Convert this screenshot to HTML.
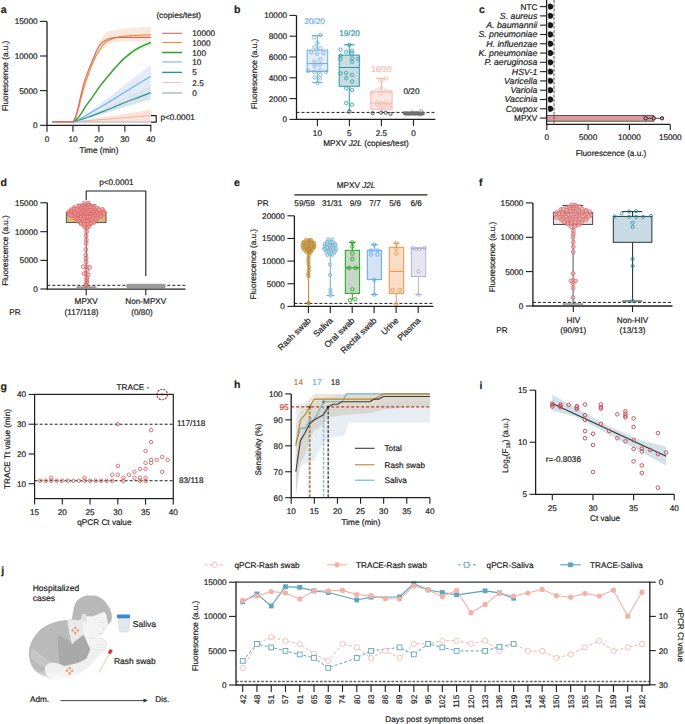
<!DOCTYPE html>
<html><head><meta charset="utf-8"><style>
html,body{margin:0;padding:0;background:#fff;}
svg{display:block;}
</style></head><body>
<svg width="685" height="724" viewBox="0 0 685 724" font-family="'Liberation Sans', sans-serif" font-size="8.2" fill="#1e1e1e" stroke-width="1">
<style>text{text-rendering:geometricPrecision;stroke:#1e1e1e;stroke-width:0.2px;}</style>
<rect width="685" height="724" fill="#fff"/>
<text x="0.8" y="12.5" font-weight="bold" font-size="10.5">a</text>
<polygon points="72.95,121.84 74.25,119.36 75.55,116.88 76.84,111.92 78.14,106.97 79.44,100.95 80.73,94.93 82.03,89.62 83.33,84.31 84.63,80.06 85.93,75.81 87.22,72.27 88.52,68.73 89.82,65.55 91.12,62.36 92.41,59.17 93.71,55.99 95.01,52.8 96.31,49.08 97.6,46.04 98.9,42.96 100.2,40.57 101.5,38.16 102.79,36.64 104.09,35.11 105.39,33.76 106.69,32.39 107.98,31.82 109.28,31.26 110.58,30.88 111.88,30.5 113.17,30.35 114.47,30.2 115.77,30.05 117.07,29.75 118.36,29.37 119.66,28.99 120.96,28.85 122.26,28.71 123.55,28.57 124.85,28.43 126.15,28.29 127.45,28.14 128.74,28 130.04,27.86 131.34,27.8 132.63,27.74 133.93,27.68 135.23,27.62 136.53,27.56 137.82,27.49 139.12,27.43 140.42,27.37 141.72,27.31 143.01,27.25 144.31,27.19 145.61,27.13 146.91,27.06 148.21,27 149.5,26.94 150.8,26.88 150.8,41.58 149.5,41.58 148.21,41.58 146.91,41.58 145.61,41.58 144.31,41.58 143.01,41.58 141.72,41.58 140.42,41.58 139.12,41.58 137.82,41.58 136.53,41.58 135.23,41.58 133.93,41.58 132.63,41.58 131.34,41.58 130.04,41.58 128.74,41.58 127.45,41.58 126.15,41.58 124.85,41.58 123.55,41.6 122.26,41.62 120.96,41.64 119.66,41.66 118.36,41.69 117.07,41.71 115.77,41.91 114.47,42.23 113.17,42.73 111.88,43.22 110.58,43.71 109.28,44.21 107.98,44.87 106.69,45.52 105.39,46.18 104.09,46.85 102.79,48.19 101.5,49.54 100.2,51.25 98.9,52.97 97.6,54.71 96.31,56.47 95.01,58.92 93.71,61.66 92.41,64.74 91.12,67.81 89.82,71.23 88.52,74.65 87.22,78.41 85.93,82.17 84.63,86.28 83.33,90.38 82.03,95.17 80.73,99.95 79.44,105.08 78.14,110.21 76.84,114.32 75.55,118.42 74.25,120.13 72.95,121.84" fill="#fbe8dc"/>
<polygon points="72.95,121.84 74.25,121.12 75.55,120.4 76.84,118.97 78.14,117.54 79.44,115.75 80.73,113.95 82.03,111.8 83.33,109.65 84.63,107.5 85.93,105.35 87.22,103.56 88.52,101.77 89.82,99.98 91.12,98.19 92.41,96.21 93.71,94.24 95.01,92.27 96.31,90.3 97.6,88.33 98.9,86.36 100.2,84.57 101.5,82.78 102.79,81.16 104.09,79.55 105.39,77.94 106.69,76.32 107.98,74.71 109.28,73.1 110.58,71.49 111.88,69.87 113.17,68.26 114.47,66.65 115.77,65.22 117.07,63.78 118.36,62.35 119.66,60.91 120.96,59.48 122.26,58.05 123.55,56.79 124.85,55.54 126.15,54.46 127.45,53.39 128.74,52.31 130.04,51.24 131.34,50.25 132.63,49.27 133.93,48.28 135.23,47.3 136.53,46.58 137.82,45.86 139.12,45.15 140.42,44.43 141.72,43.8 143.01,43.18 144.31,42.55 145.61,41.92 146.91,41.37 148.21,40.81 149.5,40.25 150.8,39.7 150.8,45.25 149.5,45.77 148.21,46.29 146.91,46.81 145.61,47.33 144.31,47.91 143.01,48.5 141.72,49.08 140.42,49.67 139.12,50.33 137.82,51 136.53,51.67 135.23,52.34 133.93,53.26 132.63,54.18 131.34,55.09 130.04,56.01 128.74,57.02 127.45,58.02 126.15,59.02 124.85,60.02 123.55,61.19 122.26,62.36 120.96,63.7 119.66,65.04 118.36,66.37 117.07,67.71 115.77,69.04 114.47,70.38 113.17,71.88 111.88,73.39 110.58,74.89 109.28,76.4 107.98,77.9 106.69,79.4 105.39,80.91 104.09,82.41 102.79,83.91 101.5,85.42 100.2,87.09 98.9,88.76 97.6,90.6 96.31,92.43 95.01,94.27 93.71,96.11 92.41,97.95 91.12,99.78 89.82,101.46 88.52,103.13 87.22,104.8 85.93,106.47 84.63,108.47 83.33,110.48 82.03,112.48 80.73,114.49 79.44,116.16 78.14,117.83 76.84,119.16 75.55,120.5 74.25,121.17 72.95,121.84" fill="#e4f0e0"/>
<polygon points="72.95,121.84 74.25,121.19 75.55,120.54 76.84,119.89 78.14,119.24 79.44,118.38 80.73,117.51 82.03,116.64 83.33,115.78 84.63,114.91 85.93,114.05 87.22,113.09 88.52,112.14 89.82,111.19 91.12,110.24 92.41,109.29 93.71,108.33 95.01,107.38 96.31,106.43 97.6,105.48 98.9,104.53 100.2,103.57 101.5,102.62 102.79,101.67 104.09,100.72 105.39,99.76 106.69,98.81 107.98,97.86 109.28,96.91 110.58,95.96 111.88,95 113.17,93.96 114.47,92.93 115.77,91.89 117.07,90.85 118.36,89.81 119.66,88.77 120.96,87.73 122.26,86.69 123.55,85.65 124.85,84.62 126.15,83.62 127.45,82.62 128.74,81.63 130.04,80.63 131.34,79.64 132.63,78.64 133.93,77.65 135.23,76.65 136.53,75.66 137.82,74.66 139.12,73.71 140.42,72.76 141.72,71.8 143.01,70.85 144.31,69.9 145.61,68.95 146.91,68 148.21,67.04 149.5,66.09 150.8,65.14 150.8,87.82 149.5,88.39 148.21,88.96 146.91,89.53 145.61,90.1 144.31,90.67 143.01,91.25 141.72,91.82 140.42,92.39 139.12,92.96 137.82,93.53 136.53,94.13 135.23,94.73 133.93,95.32 132.63,95.92 131.34,96.52 130.04,97.12 128.74,97.71 127.45,98.31 126.15,98.91 124.85,99.5 123.55,100.13 122.26,100.75 120.96,101.37 119.66,102 118.36,102.62 117.07,103.24 115.77,103.87 114.47,104.49 113.17,105.11 111.88,105.74 110.58,106.31 109.28,106.88 107.98,107.45 106.69,108.02 105.39,108.59 104.09,109.16 102.79,109.74 101.5,110.31 100.2,110.88 98.9,111.45 97.6,112.02 96.31,112.59 95.01,113.16 93.71,113.74 92.41,114.31 91.12,114.88 89.82,115.45 88.52,116.02 87.22,116.59 85.93,117.16 84.63,117.68 83.33,118.2 82.03,118.72 80.73,119.24 79.44,119.76 78.14,120.28 76.84,120.67 75.55,121.06 74.25,121.45 72.95,121.84" fill="#e3ebf7"/>
<polygon points="72.95,121.84 74.25,121.41 75.55,120.99 76.84,120.56 78.14,120.13 79.44,119.64 80.73,119.14 82.03,118.64 83.33,118.15 84.63,117.65 85.93,117.15 87.22,116.56 88.52,115.96 89.82,115.36 91.12,114.77 92.41,114.17 93.71,113.58 95.01,112.98 96.31,112.38 97.6,111.79 98.9,111.19 100.2,110.55 101.5,109.91 102.79,109.27 104.09,108.63 105.39,108 106.69,107.36 107.98,106.72 109.28,106.08 110.58,105.44 111.88,104.8 113.17,104.12 114.47,103.44 115.77,102.76 117.07,102.08 118.36,101.39 119.66,100.71 120.96,100.03 122.26,99.35 123.55,98.67 124.85,97.99 126.15,97.39 127.45,96.8 128.74,96.2 130.04,95.6 131.34,95.01 132.63,94.41 133.93,93.81 135.23,93.22 136.53,92.62 137.82,92.03 139.12,91.41 140.42,90.8 141.72,90.19 143.01,89.57 144.31,88.96 145.61,88.35 146.91,87.73 148.21,87.12 149.5,86.51 150.8,85.89 150.8,99.34 149.5,99.72 148.21,100.1 146.91,100.49 145.61,100.87 144.31,101.26 143.01,101.64 141.72,102.02 140.42,102.41 139.12,102.79 137.82,103.17 136.53,103.55 135.23,103.92 133.93,104.29 132.63,104.67 131.34,105.04 130.04,105.41 128.74,105.79 127.45,106.16 126.15,106.53 124.85,106.91 123.55,107.33 122.26,107.76 120.96,108.19 119.66,108.61 118.36,109.04 117.07,109.47 115.77,109.89 114.47,110.32 113.17,110.75 111.88,111.17 110.58,111.57 109.28,111.97 107.98,112.37 106.69,112.77 105.39,113.17 104.09,113.57 102.79,113.97 101.5,114.37 100.2,114.77 98.9,115.17 97.6,115.55 96.31,115.92 95.01,116.29 93.71,116.67 92.41,117.04 91.12,117.41 89.82,117.78 88.52,118.16 87.22,118.53 85.93,118.9 84.63,119.22 83.33,119.53 82.03,119.84 80.73,120.15 79.44,120.46 78.14,120.77 76.84,121.04 75.55,121.3 74.25,121.57 72.95,121.84" fill="#d9e3ea"/>
<polygon points="72.95,121.84 74.25,121.64 75.55,121.44 76.84,121.25 78.14,121.05 79.44,120.85 80.73,120.65 82.03,120.46 83.33,120.26 84.63,120.06 85.93,119.86 87.22,119.67 88.52,119.47 89.82,119.27 91.12,119.07 92.41,118.88 93.71,118.68 95.01,118.48 96.31,118.28 97.6,118.09 98.9,117.89 100.2,117.69 101.5,117.5 102.79,117.3 104.09,117.1 105.39,116.9 106.69,116.71 107.98,116.51 109.28,116.31 110.58,116.11 111.88,115.92 113.17,115.72 114.47,115.52 115.77,115.32 117.07,115.13 118.36,114.93 119.66,114.73 120.96,114.54 122.26,114.34 123.55,114.14 124.85,113.94 126.15,113.73 127.45,113.51 128.74,113.29 130.04,113.07 131.34,112.86 132.63,112.64 133.93,112.42 135.23,112.21 136.53,111.99 137.82,111.77 139.12,111.55 140.42,111.34 141.72,111.12 143.01,110.9 144.31,110.69 145.61,110.47 146.91,110.25 148.21,110.04 149.5,109.82 150.8,109.6 150.8,121.19 149.5,121.2 148.21,121.22 146.91,121.23 145.61,121.24 144.31,121.25 143.01,121.26 141.72,121.27 140.42,121.28 139.12,121.3 137.82,121.31 136.53,121.32 135.23,121.33 133.93,121.34 132.63,121.35 131.34,121.36 130.04,121.38 128.74,121.39 127.45,121.4 126.15,121.41 124.85,121.42 123.55,121.43 122.26,121.44 120.96,121.45 119.66,121.46 118.36,121.47 117.07,121.48 115.77,121.49 114.47,121.51 113.17,121.52 111.88,121.53 110.58,121.54 109.28,121.55 107.98,121.56 106.69,121.57 105.39,121.58 104.09,121.59 102.79,121.6 101.5,121.61 100.2,121.62 98.9,121.63 97.6,121.64 96.31,121.65 95.01,121.66 93.71,121.67 92.41,121.68 91.12,121.69 89.82,121.7 88.52,121.71 87.22,121.72 85.93,121.73 84.63,121.74 83.33,121.75 82.03,121.76 80.73,121.78 79.44,121.79 78.14,121.8 76.84,121.81 75.55,121.82 74.25,121.83 72.95,121.84" fill="#fce3da"/>
<line x1="52.19" y1="122" x2="150.8" y2="122" stroke="#c4c4c4" stroke-width="1.4"/>
<polyline points="72.95,121.84 74.25,121.73 75.55,121.63 76.84,121.53 78.14,121.42 79.44,121.32 80.73,121.21 82.03,121.11 83.33,121.01 84.63,120.9 85.93,120.8 87.22,120.69 88.52,120.59 89.82,120.49 91.12,120.38 92.41,120.28 93.71,120.18 95.01,120.07 96.31,119.97 97.6,119.86 98.9,119.76 100.2,119.66 101.5,119.55 102.79,119.45 104.09,119.34 105.39,119.24 106.69,119.14 107.98,119.03 109.28,118.93 110.58,118.83 111.88,118.72 113.17,118.62 114.47,118.51 115.77,118.41 117.07,118.31 118.36,118.2 119.66,118.1 120.96,117.99 122.26,117.89 123.55,117.79 124.85,117.68 126.15,117.57 127.45,117.45 128.74,117.34 130.04,117.23 131.34,117.11 132.63,117 133.93,116.88 135.23,116.77 136.53,116.65 137.82,116.54 139.12,116.43 140.42,116.31 141.72,116.2 143.01,116.08 144.31,115.97 145.61,115.85 146.91,115.74 148.21,115.63 149.5,115.51 150.8,115.4" fill="none" stroke="#f5b4a5" stroke-width="1.1" stroke-linejoin="round"/>
<polyline points="72.95,121.84 74.25,121.49 75.55,121.14 76.84,120.8 78.14,120.45 79.44,120.05 80.73,119.64 82.03,119.24 83.33,118.84 84.63,118.43 85.93,118.03 87.22,117.54 88.52,117.06 89.82,116.57 91.12,116.09 92.41,115.6 93.71,115.12 95.01,114.64 96.31,114.15 97.6,113.67 98.9,113.18 100.2,112.66 101.5,112.14 102.79,111.62 104.09,111.1 105.39,110.58 106.69,110.06 107.98,109.55 109.28,109.03 110.58,108.51 111.88,107.99 113.17,107.43 114.47,106.88 115.77,106.33 117.07,105.77 118.36,105.22 119.66,104.66 120.96,104.11 122.26,103.56 123.55,103 124.85,102.45 126.15,101.96 127.45,101.48 128.74,100.99 130.04,100.51 131.34,100.02 132.63,99.54 133.93,99.05 135.23,98.57 136.53,98.08 137.82,97.6 139.12,97.1 140.42,96.6 141.72,96.1 143.01,95.61 144.31,95.11 145.61,94.61 146.91,94.11 148.21,93.61 149.5,93.11 150.8,92.61" fill="none" stroke="#2a93aa" stroke-width="1.2" stroke-linejoin="round"/>
<polyline points="72.95,121.84 74.25,121.32 75.55,120.8 76.84,120.28 78.14,119.76 79.44,119.07 80.73,118.38 82.03,117.68 83.33,116.99 84.63,116.3 85.93,115.6 87.22,114.84 88.52,114.08 89.82,113.32 91.12,112.56 92.41,111.8 93.71,111.03 95.01,110.27 96.31,109.51 97.6,108.75 98.9,107.99 100.2,107.23 101.5,106.46 102.79,105.7 104.09,104.94 105.39,104.18 106.69,103.42 107.98,102.66 109.28,101.89 110.58,101.13 111.88,100.37 113.17,99.54 114.47,98.71 115.77,97.88 117.07,97.05 118.36,96.22 119.66,95.38 120.96,94.55 122.26,93.72 123.55,92.89 124.85,92.06 126.15,91.26 127.45,90.47 128.74,89.67 130.04,88.87 131.34,88.08 132.63,87.28 133.93,86.49 135.23,85.69 136.53,84.89 137.82,84.1 139.12,83.33 140.42,82.57 141.72,81.81 143.01,81.05 144.31,80.29 145.61,79.53 146.91,78.76 148.21,78 149.5,77.24 150.8,76.48" fill="none" stroke="#6fb2f5" stroke-width="1.2" stroke-linejoin="round"/>
<polyline points="72.95,121.84 74.25,121.14 75.55,120.45 76.84,119.07 78.14,117.68 79.44,115.95 80.73,114.22 82.03,112.14 83.33,110.06 84.63,107.99 85.93,105.91 87.22,104.18 88.52,102.45 89.82,100.72 91.12,98.98 92.41,97.08 93.71,95.18 95.01,93.27 96.31,91.37 97.6,89.46 98.9,87.56 100.2,85.83 101.5,84.1 102.79,82.54 104.09,80.98 105.39,79.42 106.69,77.86 107.98,76.31 109.28,74.75 110.58,73.19 111.88,71.63 113.17,70.07 114.47,68.52 115.77,67.13 117.07,65.75 118.36,64.36 119.66,62.98 120.96,61.59 122.26,60.2 123.55,58.99 124.85,57.78 126.15,56.74 127.45,55.7 128.74,54.67 130.04,53.63 131.34,52.67 132.63,51.72 133.93,50.77 135.23,49.82 136.53,49.12 137.82,48.43 139.12,47.74 140.42,47.05 141.72,46.44 143.01,45.84 144.31,45.23 145.61,44.62 146.91,44.09 148.21,43.55 149.5,43.01 150.8,42.48" fill="none" stroke="#2ea02e" stroke-width="1.4" stroke-linejoin="round"/>
<polyline points="52.19,121.84 53.49,121.84 54.78,121.84 56.08,121.84 57.38,121.84 58.68,121.84 59.98,121.84 61.27,121.84 62.57,121.84 63.87,121.84 65.17,121.84 66.46,121.84 67.76,121.84 69.06,121.84 70.36,121.84 71.65,121.84 72.95,121.84 74.25,120.11 75.55,118.38 76.84,114.22 78.14,110.06 79.44,104.87 80.73,99.68 82.03,94.83 83.33,89.98 84.63,85.83 85.93,81.67 87.22,77.86 88.52,74.06 89.82,70.59 91.12,67.13 92.41,64.01 93.71,60.9 95.01,58.13 96.31,55.36 97.6,53.28 98.9,51.2 100.2,49.12 101.5,47.05 102.79,45.32 104.09,43.58 105.39,42.55 106.69,41.51 107.98,40.81 109.28,40.12 110.58,39.6 111.88,39.08 113.17,38.56 114.47,38.05 115.77,37.7 117.07,37.35 118.36,37.01 119.66,36.66 120.96,36.53 122.26,36.4 123.55,36.27 124.85,36.14 126.15,36.01 127.45,35.88 128.74,35.75 130.04,35.62 131.34,35.56 132.63,35.51 133.93,35.45 135.23,35.4 136.53,35.34 137.82,35.28 139.12,35.23 140.42,35.17 141.72,35.11 143.01,35.06 144.31,35 145.61,34.95 146.91,34.89 148.21,34.83 149.5,34.78 150.8,34.72" fill="none" stroke="#f0913e" stroke-width="1.2" stroke-linejoin="round"/>
<polyline points="52.19,121.84 53.49,121.84 54.78,121.84 56.08,121.84 57.38,121.84 58.68,121.84 59.98,121.84 61.27,121.84 62.57,121.84 63.87,121.84 65.17,121.84 66.46,121.84 67.76,121.84 69.06,121.84 70.36,121.84 71.65,121.84 72.95,121.84 74.25,119.41 75.55,116.99 76.84,112.14 78.14,107.3 79.44,101.41 80.73,95.52 82.03,90.33 83.33,85.13 84.63,80.98 85.93,76.82 87.22,73.36 88.52,69.9 89.82,66.78 91.12,63.67 92.41,60.55 93.71,57.44 95.01,54.32 96.31,51.2 97.6,48.78 98.9,46.36 100.2,44.62 101.5,42.89 102.79,42.03 104.09,41.16 105.39,40.47 106.69,39.78 107.98,39.26 109.28,38.74 110.58,38.39 111.88,38.05 113.17,37.91 114.47,37.77 115.77,37.63 117.07,37.49 118.36,37.47 119.66,37.44 120.96,37.42 122.26,37.4 123.55,37.38 124.85,37.35 126.15,37.35 127.45,37.35 128.74,37.35 130.04,37.35 131.34,37.35 132.63,37.35 133.93,37.35 135.23,37.35 136.53,37.35 137.82,37.35 139.12,37.35 140.42,37.35 141.72,37.35 143.01,37.35 144.31,37.35 145.61,37.35 146.91,37.35 148.21,37.35 149.5,37.35 150.8,37.35" fill="none" stroke="#d4676a" stroke-width="1.1" stroke-linejoin="round"/>
<line x1="47" y1="21.4" x2="47" y2="125.8" stroke="#1e1e1e" stroke-width="1.3"/>
<line x1="46.4" y1="125.3" x2="151.4" y2="125.3" stroke="#1e1e1e" stroke-width="1.3"/>
<line x1="40" y1="125.3" x2="47" y2="125.3" stroke="#1e1e1e" stroke-width="1.1"/>
<text x="37.5" y="128.2" text-anchor="end">0</text>
<line x1="40" y1="90.6" x2="47" y2="90.6" stroke="#1e1e1e" stroke-width="1.1"/>
<text x="37.5" y="93.5" text-anchor="end">5000</text>
<line x1="40" y1="56" x2="47" y2="56" stroke="#1e1e1e" stroke-width="1.1"/>
<text x="37.5" y="58.9" text-anchor="end">10000</text>
<line x1="40" y1="21.4" x2="47" y2="21.4" stroke="#1e1e1e" stroke-width="1.1"/>
<text x="37.5" y="24.3" text-anchor="end">15000</text>
<line x1="47" y1="125.3" x2="47" y2="131.8" stroke="#1e1e1e" stroke-width="1.1"/>
<text x="47" y="142.1" text-anchor="middle">0</text>
<line x1="72.95" y1="125.3" x2="72.95" y2="131.8" stroke="#1e1e1e" stroke-width="1.1"/>
<text x="72.95" y="142.1" text-anchor="middle">10</text>
<line x1="98.9" y1="125.3" x2="98.9" y2="131.8" stroke="#1e1e1e" stroke-width="1.1"/>
<text x="98.9" y="142.1" text-anchor="middle">20</text>
<line x1="124.85" y1="125.3" x2="124.85" y2="131.8" stroke="#1e1e1e" stroke-width="1.1"/>
<text x="124.85" y="142.1" text-anchor="middle">30</text>
<line x1="150.8" y1="125.3" x2="150.8" y2="131.8" stroke="#1e1e1e" stroke-width="1.1"/>
<text x="150.8" y="142.1" text-anchor="middle">40</text>
<text x="99" y="153" text-anchor="middle">Time (min)</text>
<text x="8.3" y="76" text-anchor="middle" transform="rotate(-90 8.3 76)">Fluorescence (a.u.)</text>
<polyline points="151,115.6 156.2,115.6 156.2,122.1 151,122.1" fill="none" stroke="#1e1e1e" stroke-width="1.2" stroke-linejoin="round"/>
<text x="160.4" y="120.3">p&lt;0.0001</text>
<text x="156.4" y="18">(copies/test)</text>
<line x1="162.2" y1="33.3" x2="182" y2="33.3" stroke="#d4676a" stroke-width="1.1"/>
<text x="192.3" y="36.3">10000</text>
<line x1="162.2" y1="42.5" x2="182" y2="42.5" stroke="#f0913e" stroke-width="1.2"/>
<text x="192.3" y="45.5">1000</text>
<line x1="162.2" y1="52.5" x2="182" y2="52.5" stroke="#2ea02e" stroke-width="1.5"/>
<text x="192.3" y="55.5">100</text>
<line x1="162.2" y1="61.9" x2="182" y2="61.9" stroke="#a9d0fa" stroke-width="1.8"/>
<text x="192.3" y="64.9">10</text>
<line x1="162.2" y1="72.4" x2="182" y2="72.4" stroke="#2a93aa" stroke-width="1.4"/>
<text x="192.3" y="75.4">5</text>
<line x1="162.2" y1="82.5" x2="182" y2="82.5" stroke="#f7c3b6" stroke-width="1"/>
<text x="192.3" y="85.5">2.5</text>
<line x1="162.2" y1="92.9" x2="182" y2="92.9" stroke="#c8c8c8" stroke-width="2"/>
<text x="192.3" y="95.9">0</text>
<text x="234" y="12.5" font-weight="bold" font-size="10.5">b</text>
<line x1="296.5" y1="112.4" x2="435.4" y2="112.4" stroke="#1e1e1e" stroke-width="1" stroke-dasharray="3,2"/>
<line x1="317.4" y1="35.4" x2="317.4" y2="50.1" stroke="#6aa9ee" stroke-width="1"/>
<line x1="317.4" y1="71.4" x2="317.4" y2="82.4" stroke="#6aa9ee" stroke-width="1"/>
<line x1="311.7" y1="35.4" x2="322.9" y2="35.4" stroke="#6aa9ee" stroke-width="1"/>
<line x1="311.7" y1="82.4" x2="322.9" y2="82.4" stroke="#6aa9ee" stroke-width="1"/>
<rect x="307.1" y="50.1" width="20.6" height="21.3" fill="#e5edf9" stroke="#6aa9ee" stroke-width="1"/>
<line x1="307.1" y1="63.6" x2="327.7" y2="63.6" stroke="#6aa9ee" stroke-width="1"/>
<circle cx="320.4" cy="35" r="1.7" fill="none" stroke="#6aa9ee" stroke-width="0.8"/>
<circle cx="314.2" cy="37.5" r="1.7" fill="none" stroke="#6aa9ee" stroke-width="0.8"/>
<circle cx="317.5" cy="42.8" r="1.7" fill="none" stroke="#6aa9ee" stroke-width="0.8"/>
<circle cx="314.6" cy="47" r="1.7" fill="none" stroke="#6aa9ee" stroke-width="0.8"/>
<circle cx="320.4" cy="48.2" r="1.7" fill="none" stroke="#6aa9ee" stroke-width="0.8"/>
<circle cx="311.3" cy="52.4" r="1.7" fill="none" stroke="#6aa9ee" stroke-width="0.8"/>
<circle cx="317.1" cy="53.6" r="1.7" fill="none" stroke="#6aa9ee" stroke-width="0.8"/>
<circle cx="323.3" cy="53.2" r="1.7" fill="none" stroke="#6aa9ee" stroke-width="0.8"/>
<circle cx="320.4" cy="59.4" r="1.7" fill="none" stroke="#6aa9ee" stroke-width="0.8"/>
<circle cx="314.6" cy="61.5" r="1.7" fill="none" stroke="#6aa9ee" stroke-width="0.8"/>
<circle cx="320" cy="64.4" r="1.7" fill="none" stroke="#6aa9ee" stroke-width="0.8"/>
<circle cx="314.6" cy="66" r="1.7" fill="none" stroke="#6aa9ee" stroke-width="0.8"/>
<circle cx="308.4" cy="71" r="1.7" fill="none" stroke="#6aa9ee" stroke-width="0.8"/>
<circle cx="314.2" cy="71.8" r="1.7" fill="none" stroke="#6aa9ee" stroke-width="0.8"/>
<circle cx="320.4" cy="70.6" r="1.7" fill="none" stroke="#6aa9ee" stroke-width="0.8"/>
<circle cx="326.2" cy="71.8" r="1.7" fill="none" stroke="#6aa9ee" stroke-width="0.8"/>
<circle cx="320.4" cy="74.7" r="1.7" fill="none" stroke="#6aa9ee" stroke-width="0.8"/>
<circle cx="314.6" cy="77.6" r="1.7" fill="none" stroke="#6aa9ee" stroke-width="0.8"/>
<circle cx="320" cy="78.5" r="1.7" fill="none" stroke="#6aa9ee" stroke-width="0.8"/>
<circle cx="317.5" cy="83" r="1.7" fill="none" stroke="#6aa9ee" stroke-width="0.8"/>
<line x1="349.3" y1="44.8" x2="349.3" y2="55.1" stroke="#2a98aa" stroke-width="1"/>
<line x1="349.3" y1="86.3" x2="349.3" y2="111.6" stroke="#2a98aa" stroke-width="1"/>
<line x1="344" y1="44.8" x2="354.8" y2="44.8" stroke="#2a98aa" stroke-width="1"/>
<rect x="339.2" y="55.1" width="20.1" height="31.2" fill="#c9dce1" stroke="#2a98aa" stroke-width="1"/>
<line x1="339.2" y1="67.5" x2="359.3" y2="67.5" stroke="#2a98aa" stroke-width="1"/>
<circle cx="349.3" cy="44.8" r="1.7" fill="none" stroke="#2a98aa" stroke-width="0.8"/>
<circle cx="340.5" cy="49.6" r="1.7" fill="none" stroke="#2a98aa" stroke-width="0.8"/>
<circle cx="346.2" cy="51.8" r="1.7" fill="none" stroke="#2a98aa" stroke-width="0.8"/>
<circle cx="352.1" cy="50.7" r="1.7" fill="none" stroke="#2a98aa" stroke-width="0.8"/>
<circle cx="340.5" cy="55.6" r="1.7" fill="none" stroke="#2a98aa" stroke-width="0.8"/>
<circle cx="352.1" cy="53.5" r="1.7" fill="none" stroke="#2a98aa" stroke-width="0.8"/>
<circle cx="340.5" cy="59.2" r="1.7" fill="none" stroke="#2a98aa" stroke-width="0.8"/>
<circle cx="352.1" cy="58.4" r="1.7" fill="none" stroke="#2a98aa" stroke-width="0.8"/>
<circle cx="358.2" cy="58.9" r="1.7" fill="none" stroke="#2a98aa" stroke-width="0.8"/>
<circle cx="352.1" cy="61.7" r="1.7" fill="none" stroke="#2a98aa" stroke-width="0.8"/>
<circle cx="340.5" cy="73.3" r="1.7" fill="none" stroke="#2a98aa" stroke-width="0.8"/>
<circle cx="346.2" cy="73.1" r="1.7" fill="none" stroke="#2a98aa" stroke-width="0.8"/>
<circle cx="346.2" cy="78.2" r="1.7" fill="none" stroke="#2a98aa" stroke-width="0.8"/>
<circle cx="352.1" cy="74.9" r="1.7" fill="none" stroke="#2a98aa" stroke-width="0.8"/>
<circle cx="352.1" cy="81.5" r="1.7" fill="none" stroke="#2a98aa" stroke-width="0.8"/>
<circle cx="346.2" cy="88.2" r="1.7" fill="none" stroke="#2a98aa" stroke-width="0.8"/>
<circle cx="352.1" cy="90" r="1.7" fill="none" stroke="#2a98aa" stroke-width="0.8"/>
<circle cx="346.2" cy="103" r="1.7" fill="none" stroke="#2a98aa" stroke-width="0.8"/>
<circle cx="352.1" cy="104.7" r="1.7" fill="none" stroke="#2a98aa" stroke-width="0.8"/>
<line x1="381.4" y1="78.3" x2="381.4" y2="91.7" stroke="#f6b9ad" stroke-width="1"/>
<line x1="381.4" y1="109.2" x2="381.4" y2="114.5" stroke="#f6b9ad" stroke-width="1"/>
<line x1="375.8" y1="78.3" x2="386" y2="78.3" stroke="#f6b9ad" stroke-width="1"/>
<rect x="370.8" y="91.7" width="21.3" height="17.5" fill="#fce9e3" stroke="#f6b9ad" stroke-width="1"/>
<line x1="370.8" y1="103.1" x2="392.1" y2="103.1" stroke="#f6b9ad" stroke-width="1"/>
<circle cx="386" cy="78.3" r="1.7" fill="none" stroke="#f6b9ad" stroke-width="0.8"/>
<circle cx="380.4" cy="80.3" r="1.7" fill="none" stroke="#f6b9ad" stroke-width="0.8"/>
<circle cx="382.6" cy="80.3" r="1.7" fill="none" stroke="#f6b9ad" stroke-width="0.8"/>
<circle cx="381.3" cy="88.2" r="1.7" fill="none" stroke="#f6b9ad" stroke-width="0.8"/>
<circle cx="372.6" cy="92.6" r="1.7" fill="none" stroke="#f6b9ad" stroke-width="0.8"/>
<circle cx="377" cy="90.4" r="1.7" fill="none" stroke="#f6b9ad" stroke-width="0.8"/>
<circle cx="385.7" cy="90.8" r="1.7" fill="none" stroke="#f6b9ad" stroke-width="0.8"/>
<circle cx="390.1" cy="91.7" r="1.7" fill="none" stroke="#f6b9ad" stroke-width="0.8"/>
<circle cx="381.3" cy="93.5" r="1.7" fill="none" stroke="#f6b9ad" stroke-width="0.8"/>
<circle cx="377" cy="102.6" r="1.7" fill="none" stroke="#f6b9ad" stroke-width="0.8"/>
<circle cx="381.3" cy="103.1" r="1.7" fill="none" stroke="#f6b9ad" stroke-width="0.8"/>
<circle cx="385.7" cy="102.6" r="1.7" fill="none" stroke="#f6b9ad" stroke-width="0.8"/>
<circle cx="377" cy="104.8" r="1.7" fill="none" stroke="#f6b9ad" stroke-width="0.8"/>
<circle cx="385.7" cy="105.7" r="1.7" fill="none" stroke="#f6b9ad" stroke-width="0.8"/>
<circle cx="390.1" cy="105.7" r="1.7" fill="none" stroke="#f6b9ad" stroke-width="0.8"/>
<circle cx="381.3" cy="107.7" r="1.7" fill="none" stroke="#f6b9ad" stroke-width="0.8"/>
<circle cx="349.3" cy="111.6" r="1.6" fill="none" stroke="#444" stroke-width="0.9"/>
<circle cx="372.6" cy="113.2" r="1.6" fill="none" stroke="#444" stroke-width="0.9"/>
<circle cx="381.3" cy="112.7" r="1.6" fill="none" stroke="#444" stroke-width="0.9"/>
<circle cx="385.7" cy="112.7" r="1.6" fill="none" stroke="#444" stroke-width="0.9"/>
<circle cx="390.5" cy="114" r="1.6" fill="none" stroke="#444" stroke-width="0.9"/>
<rect x="403" y="111.8" width="21" height="3.6" fill="#8a8a8a" stroke="none" stroke-width="1" rx="1.8"/>
<circle cx="404.5" cy="112.98" r="1.5" fill="none" stroke="#666" stroke-width="0.7"/>
<circle cx="405.95" cy="113.47" r="1.5" fill="none" stroke="#666" stroke-width="0.7"/>
<circle cx="407.4" cy="113.19" r="1.5" fill="none" stroke="#666" stroke-width="0.7"/>
<circle cx="408.85" cy="113.57" r="1.5" fill="none" stroke="#666" stroke-width="0.7"/>
<circle cx="410.3" cy="113.6" r="1.5" fill="none" stroke="#666" stroke-width="0.7"/>
<circle cx="411.75" cy="112.7" r="1.5" fill="none" stroke="#666" stroke-width="0.7"/>
<circle cx="413.2" cy="112.62" r="1.5" fill="none" stroke="#666" stroke-width="0.7"/>
<circle cx="414.65" cy="113.94" r="1.5" fill="none" stroke="#666" stroke-width="0.7"/>
<circle cx="416.1" cy="113.01" r="1.5" fill="none" stroke="#666" stroke-width="0.7"/>
<circle cx="417.55" cy="112.97" r="1.5" fill="none" stroke="#666" stroke-width="0.7"/>
<circle cx="419" cy="114.19" r="1.5" fill="none" stroke="#666" stroke-width="0.7"/>
<circle cx="420.45" cy="113.35" r="1.5" fill="none" stroke="#666" stroke-width="0.7"/>
<circle cx="421.9" cy="113.94" r="1.5" fill="none" stroke="#666" stroke-width="0.7"/>
<circle cx="423.35" cy="113.36" r="1.5" fill="none" stroke="#666" stroke-width="0.7"/>
<circle cx="421.3" cy="111.2" r="1.5" fill="none" stroke="#777" stroke-width="0.7"/>
<line x1="296.5" y1="15.4" x2="296.5" y2="119.9" stroke="#1e1e1e" stroke-width="1.3"/>
<line x1="295.9" y1="119.4" x2="435.4" y2="119.4" stroke="#1e1e1e" stroke-width="1.3"/>
<line x1="289.5" y1="119.4" x2="296.5" y2="119.4" stroke="#1e1e1e" stroke-width="1.1"/>
<text x="287" y="122.3" text-anchor="end">0</text>
<line x1="289.5" y1="98.6" x2="296.5" y2="98.6" stroke="#1e1e1e" stroke-width="1.1"/>
<text x="287" y="101.5" text-anchor="end">2000</text>
<line x1="289.5" y1="77.8" x2="296.5" y2="77.8" stroke="#1e1e1e" stroke-width="1.1"/>
<text x="287" y="80.7" text-anchor="end">4000</text>
<line x1="289.5" y1="57" x2="296.5" y2="57" stroke="#1e1e1e" stroke-width="1.1"/>
<text x="287" y="59.9" text-anchor="end">6000</text>
<line x1="289.5" y1="36.2" x2="296.5" y2="36.2" stroke="#1e1e1e" stroke-width="1.1"/>
<text x="287" y="39.1" text-anchor="end">8000</text>
<line x1="289.5" y1="15.4" x2="296.5" y2="15.4" stroke="#1e1e1e" stroke-width="1.1"/>
<text x="287" y="18.3" text-anchor="end">10000</text>
<line x1="317.4" y1="119.4" x2="317.4" y2="125.9" stroke="#1e1e1e" stroke-width="1.1"/>
<text x="317.4" y="136.1" text-anchor="middle">10</text>
<line x1="349.4" y1="119.4" x2="349.4" y2="125.9" stroke="#1e1e1e" stroke-width="1.1"/>
<text x="349.4" y="136.1" text-anchor="middle">5</text>
<line x1="381.4" y1="119.4" x2="381.4" y2="125.9" stroke="#1e1e1e" stroke-width="1.1"/>
<text x="381.4" y="136.1" text-anchor="middle">2.5</text>
<line x1="413.5" y1="119.4" x2="413.5" y2="125.9" stroke="#1e1e1e" stroke-width="1.1"/>
<text x="413.5" y="136.1" text-anchor="middle">0</text>
<text x="366" y="145.6" text-anchor="middle">MPXV <tspan font-style="italic">J2L</tspan> (copies/test)</text>
<text x="257" y="74" text-anchor="middle" transform="rotate(-90 257 74)">Fluorescence (a.u.)</text>
<text x="314.5" y="23.8" text-anchor="middle" style="fill:#6aa9ee;stroke:#6aa9ee">20/20</text>
<text x="349.5" y="36.2" text-anchor="middle" style="fill:#2a98aa;stroke:#2a98aa">19/20</text>
<text x="381.4" y="71.5" text-anchor="middle" style="fill:#f6b9ad;stroke:#f6b9ad">16/20</text>
<text x="411.5" y="94.3" text-anchor="middle">0/20</text>
<text x="479" y="12.5" font-weight="bold" font-size="10.5">c</text>
<rect x="546.6" y="115.4" width="107.17" height="5.8" fill="#dc9b99" stroke="#3a3a3a" stroke-width="0.8"/>
<line x1="554.02" y1="0" x2="554.02" y2="124.4" stroke="#555" stroke-width="1" stroke-dasharray="3,1.3"/>
<line x1="540.1" y1="6.6" x2="546.6" y2="6.6" stroke="#1e1e1e" stroke-width="1.1"/>
<text x="537.3" y="9.5" text-anchor="end">NTC</text>
<circle cx="549.8" cy="5.4" r="1.75" fill="#1a1a1a" stroke="#111" stroke-width="0.4"/>
<circle cx="551.1" cy="5.9" r="1.75" fill="#1a1a1a" stroke="#111" stroke-width="0.4"/>
<circle cx="550" cy="7.8" r="1.75" fill="#1a1a1a" stroke="#111" stroke-width="0.4"/>
<circle cx="551.2" cy="7.2" r="1.75" fill="#1a1a1a" stroke="#111" stroke-width="0.4"/>
<circle cx="550.4" cy="6.6" r="1.75" fill="#1a1a1a" stroke="#111" stroke-width="0.4"/>
<line x1="540.1" y1="15.89" x2="546.6" y2="15.89" stroke="#1e1e1e" stroke-width="1.1"/>
<text x="537.3" y="18.79" text-anchor="end" font-style="italic" font-size="8.75">S. aureus</text>
<circle cx="549.8" cy="14.69" r="1.75" fill="#1a1a1a" stroke="#111" stroke-width="0.4"/>
<circle cx="551.1" cy="15.19" r="1.75" fill="#1a1a1a" stroke="#111" stroke-width="0.4"/>
<circle cx="550" cy="17.09" r="1.75" fill="#1a1a1a" stroke="#111" stroke-width="0.4"/>
<circle cx="551.2" cy="16.49" r="1.75" fill="#1a1a1a" stroke="#111" stroke-width="0.4"/>
<circle cx="550.4" cy="15.89" r="1.75" fill="#1a1a1a" stroke="#111" stroke-width="0.4"/>
<line x1="540.1" y1="25.18" x2="546.6" y2="25.18" stroke="#1e1e1e" stroke-width="1.1"/>
<text x="537.3" y="28.08" text-anchor="end" font-style="italic" font-size="8.75">A. baumannii</text>
<circle cx="549.8" cy="23.98" r="1.75" fill="#1a1a1a" stroke="#111" stroke-width="0.4"/>
<circle cx="551.1" cy="24.48" r="1.75" fill="#1a1a1a" stroke="#111" stroke-width="0.4"/>
<circle cx="550" cy="26.38" r="1.75" fill="#1a1a1a" stroke="#111" stroke-width="0.4"/>
<circle cx="551.2" cy="25.78" r="1.75" fill="#1a1a1a" stroke="#111" stroke-width="0.4"/>
<circle cx="550.4" cy="25.18" r="1.75" fill="#1a1a1a" stroke="#111" stroke-width="0.4"/>
<line x1="540.1" y1="34.47" x2="546.6" y2="34.47" stroke="#1e1e1e" stroke-width="1.1"/>
<text x="537.3" y="37.37" text-anchor="end" font-style="italic" font-size="8.75">S. pneumoniae</text>
<circle cx="549.8" cy="33.27" r="1.75" fill="#1a1a1a" stroke="#111" stroke-width="0.4"/>
<circle cx="551.1" cy="33.77" r="1.75" fill="#1a1a1a" stroke="#111" stroke-width="0.4"/>
<circle cx="550" cy="35.67" r="1.75" fill="#1a1a1a" stroke="#111" stroke-width="0.4"/>
<circle cx="551.2" cy="35.07" r="1.75" fill="#1a1a1a" stroke="#111" stroke-width="0.4"/>
<circle cx="550.4" cy="34.47" r="1.75" fill="#1a1a1a" stroke="#111" stroke-width="0.4"/>
<line x1="540.1" y1="43.76" x2="546.6" y2="43.76" stroke="#1e1e1e" stroke-width="1.1"/>
<text x="537.3" y="46.66" text-anchor="end" font-style="italic" font-size="8.75">H. influenzae</text>
<circle cx="549.8" cy="42.56" r="1.75" fill="#1a1a1a" stroke="#111" stroke-width="0.4"/>
<circle cx="551.1" cy="43.06" r="1.75" fill="#1a1a1a" stroke="#111" stroke-width="0.4"/>
<circle cx="550" cy="44.96" r="1.75" fill="#1a1a1a" stroke="#111" stroke-width="0.4"/>
<circle cx="551.2" cy="44.36" r="1.75" fill="#1a1a1a" stroke="#111" stroke-width="0.4"/>
<circle cx="550.4" cy="43.76" r="1.75" fill="#1a1a1a" stroke="#111" stroke-width="0.4"/>
<line x1="540.1" y1="53.05" x2="546.6" y2="53.05" stroke="#1e1e1e" stroke-width="1.1"/>
<text x="537.3" y="55.95" text-anchor="end" font-style="italic" font-size="8.75">K. pneumoniae</text>
<circle cx="549.8" cy="51.85" r="1.75" fill="#1a1a1a" stroke="#111" stroke-width="0.4"/>
<circle cx="551.1" cy="52.35" r="1.75" fill="#1a1a1a" stroke="#111" stroke-width="0.4"/>
<circle cx="550" cy="54.25" r="1.75" fill="#1a1a1a" stroke="#111" stroke-width="0.4"/>
<circle cx="551.2" cy="53.65" r="1.75" fill="#1a1a1a" stroke="#111" stroke-width="0.4"/>
<circle cx="550.4" cy="53.05" r="1.75" fill="#1a1a1a" stroke="#111" stroke-width="0.4"/>
<line x1="540.1" y1="62.34" x2="546.6" y2="62.34" stroke="#1e1e1e" stroke-width="1.1"/>
<text x="537.3" y="65.24" text-anchor="end" font-style="italic" font-size="8.75">P. aeruginosa</text>
<circle cx="549.8" cy="61.14" r="1.75" fill="#1a1a1a" stroke="#111" stroke-width="0.4"/>
<circle cx="551.1" cy="61.64" r="1.75" fill="#1a1a1a" stroke="#111" stroke-width="0.4"/>
<circle cx="550" cy="63.54" r="1.75" fill="#1a1a1a" stroke="#111" stroke-width="0.4"/>
<circle cx="551.2" cy="62.94" r="1.75" fill="#1a1a1a" stroke="#111" stroke-width="0.4"/>
<circle cx="550.4" cy="62.34" r="1.75" fill="#1a1a1a" stroke="#111" stroke-width="0.4"/>
<line x1="540.1" y1="71.63" x2="546.6" y2="71.63" stroke="#1e1e1e" stroke-width="1.1"/>
<text x="537.3" y="74.53" text-anchor="end" font-style="italic" font-size="8.75">HSV-1</text>
<circle cx="549.8" cy="70.43" r="1.75" fill="#1a1a1a" stroke="#111" stroke-width="0.4"/>
<circle cx="551.1" cy="70.93" r="1.75" fill="#1a1a1a" stroke="#111" stroke-width="0.4"/>
<circle cx="550" cy="72.83" r="1.75" fill="#1a1a1a" stroke="#111" stroke-width="0.4"/>
<circle cx="551.2" cy="72.23" r="1.75" fill="#1a1a1a" stroke="#111" stroke-width="0.4"/>
<circle cx="550.4" cy="71.63" r="1.75" fill="#1a1a1a" stroke="#111" stroke-width="0.4"/>
<line x1="540.1" y1="80.92" x2="546.6" y2="80.92" stroke="#1e1e1e" stroke-width="1.1"/>
<text x="537.3" y="83.82" text-anchor="end" font-style="italic" font-size="8.75">Varicella</text>
<circle cx="549.8" cy="79.72" r="1.75" fill="#1a1a1a" stroke="#111" stroke-width="0.4"/>
<circle cx="551.1" cy="80.22" r="1.75" fill="#1a1a1a" stroke="#111" stroke-width="0.4"/>
<circle cx="550" cy="82.12" r="1.75" fill="#1a1a1a" stroke="#111" stroke-width="0.4"/>
<circle cx="551.2" cy="81.52" r="1.75" fill="#1a1a1a" stroke="#111" stroke-width="0.4"/>
<circle cx="550.4" cy="80.92" r="1.75" fill="#1a1a1a" stroke="#111" stroke-width="0.4"/>
<line x1="540.1" y1="90.21" x2="546.6" y2="90.21" stroke="#1e1e1e" stroke-width="1.1"/>
<text x="537.3" y="93.11" text-anchor="end" font-style="italic" font-size="8.75">Variola</text>
<circle cx="549.8" cy="89.01" r="1.75" fill="#1a1a1a" stroke="#111" stroke-width="0.4"/>
<circle cx="551.1" cy="89.51" r="1.75" fill="#1a1a1a" stroke="#111" stroke-width="0.4"/>
<circle cx="550" cy="91.41" r="1.75" fill="#1a1a1a" stroke="#111" stroke-width="0.4"/>
<circle cx="551.2" cy="90.81" r="1.75" fill="#1a1a1a" stroke="#111" stroke-width="0.4"/>
<circle cx="550.4" cy="90.21" r="1.75" fill="#1a1a1a" stroke="#111" stroke-width="0.4"/>
<line x1="540.1" y1="99.5" x2="546.6" y2="99.5" stroke="#1e1e1e" stroke-width="1.1"/>
<text x="537.3" y="102.4" text-anchor="end" font-style="italic" font-size="8.75">Vaccinia</text>
<circle cx="549.8" cy="98.3" r="1.75" fill="#1a1a1a" stroke="#111" stroke-width="0.4"/>
<circle cx="551.1" cy="98.8" r="1.75" fill="#1a1a1a" stroke="#111" stroke-width="0.4"/>
<circle cx="550" cy="100.7" r="1.75" fill="#1a1a1a" stroke="#111" stroke-width="0.4"/>
<circle cx="551.2" cy="100.1" r="1.75" fill="#1a1a1a" stroke="#111" stroke-width="0.4"/>
<circle cx="550.4" cy="99.5" r="1.75" fill="#1a1a1a" stroke="#111" stroke-width="0.4"/>
<line x1="540.1" y1="108.79" x2="546.6" y2="108.79" stroke="#1e1e1e" stroke-width="1.1"/>
<text x="537.3" y="111.69" text-anchor="end" font-style="italic" font-size="8.75">Cowpox</text>
<circle cx="549.8" cy="107.59" r="1.75" fill="#1a1a1a" stroke="#111" stroke-width="0.4"/>
<circle cx="551.1" cy="108.09" r="1.75" fill="#1a1a1a" stroke="#111" stroke-width="0.4"/>
<circle cx="550" cy="109.99" r="1.75" fill="#1a1a1a" stroke="#111" stroke-width="0.4"/>
<circle cx="551.2" cy="109.39" r="1.75" fill="#1a1a1a" stroke="#111" stroke-width="0.4"/>
<circle cx="550.4" cy="108.79" r="1.75" fill="#1a1a1a" stroke="#111" stroke-width="0.4"/>
<line x1="540.1" y1="118.08" x2="546.6" y2="118.08" stroke="#1e1e1e" stroke-width="1.1"/>
<text x="537.3" y="120.98" text-anchor="end">MPXV</text>
<line x1="645.6" y1="118.3" x2="662" y2="118.3" stroke="#333" stroke-width="0.9"/>
<circle cx="645.6" cy="118.3" r="1.7" fill="#dc9b99" stroke="#222" stroke-width="1"/>
<circle cx="653.8" cy="118.3" r="1.7" fill="#dc9b99" stroke="#222" stroke-width="1"/>
<circle cx="662" cy="118.3" r="1.7" fill="#dc9b99" stroke="#222" stroke-width="1"/>
<line x1="546.6" y1="0" x2="546.6" y2="124.9" stroke="#1e1e1e" stroke-width="1.3"/>
<line x1="546" y1="124.4" x2="670.3" y2="124.4" stroke="#1e1e1e" stroke-width="1.3"/>
<line x1="546.8" y1="124.4" x2="546.8" y2="129.9" stroke="#1e1e1e" stroke-width="1.1"/>
<text x="546.8" y="140.3" text-anchor="middle">0</text>
<line x1="588.1" y1="124.4" x2="588.1" y2="129.9" stroke="#1e1e1e" stroke-width="1.1"/>
<text x="588.1" y="140.3" text-anchor="middle">5000</text>
<line x1="629.4" y1="124.4" x2="629.4" y2="129.9" stroke="#1e1e1e" stroke-width="1.1"/>
<text x="629.4" y="140.3" text-anchor="middle">10000</text>
<line x1="670.3" y1="124.4" x2="670.3" y2="129.9" stroke="#1e1e1e" stroke-width="1.1"/>
<text x="670.3" y="140.3" text-anchor="middle">15000</text>
<text x="611" y="156" text-anchor="middle">Fluorescence (a.u.)</text>
<text x="0.4" y="186" font-weight="bold" font-size="10.5">d</text>
<line x1="47.3" y1="285.3" x2="185.5" y2="285.3" stroke="#1e1e1e" stroke-width="1" stroke-dasharray="3,2"/>
<polyline points="86.2,200.2 86.2,191 145.8,191 145.8,276" fill="none" stroke="#1e1e1e" stroke-width="1.1" stroke-linejoin="round"/>
<text x="116.4" y="184.5" text-anchor="middle">p&lt;0.0001</text>
<line x1="86.3" y1="204.9" x2="86.3" y2="287.1" stroke="#555" stroke-width="1"/>
<line x1="76.4" y1="204.9" x2="96.4" y2="204.9" stroke="#555" stroke-width="1"/>
<line x1="76.4" y1="287.1" x2="96.4" y2="287.1" stroke="#555" stroke-width="1"/>
<rect x="66.3" y="212.2" width="39.7" height="10.4" fill="#dcb97a" stroke="#444" stroke-width="0.9"/>
<circle cx="84.09" cy="203.44" r="2" fill="#eb9c9c" stroke="#db6464" stroke-width="0.8" fill-opacity="0.75"/>
<circle cx="88.48" cy="203.32" r="2" fill="#eb9c9c" stroke="#db6464" stroke-width="0.8" fill-opacity="0.75"/>
<circle cx="79.94" cy="205.79" r="2" fill="#eb9c9c" stroke="#db6464" stroke-width="0.8" fill-opacity="0.75"/>
<circle cx="82.57" cy="206.01" r="2" fill="#eb9c9c" stroke="#db6464" stroke-width="0.8" fill-opacity="0.75"/>
<circle cx="85.74" cy="205.89" r="2" fill="#eb9c9c" stroke="#db6464" stroke-width="0.8" fill-opacity="0.75"/>
<circle cx="88.98" cy="205.35" r="2" fill="#eb9c9c" stroke="#db6464" stroke-width="0.8" fill-opacity="0.75"/>
<circle cx="92.61" cy="206.52" r="2" fill="#eb9c9c" stroke="#db6464" stroke-width="0.8" fill-opacity="0.75"/>
<circle cx="74.47" cy="207.56" r="2" fill="#eb9c9c" stroke="#db6464" stroke-width="0.8" fill-opacity="0.75"/>
<circle cx="78.33" cy="208.72" r="2" fill="#eb9c9c" stroke="#db6464" stroke-width="0.8" fill-opacity="0.75"/>
<circle cx="81.52" cy="207.83" r="2" fill="#eb9c9c" stroke="#db6464" stroke-width="0.8" fill-opacity="0.75"/>
<circle cx="85.25" cy="207.27" r="2" fill="#eb9c9c" stroke="#db6464" stroke-width="0.8" fill-opacity="0.75"/>
<circle cx="88.36" cy="207.66" r="2" fill="#eb9c9c" stroke="#db6464" stroke-width="0.8" fill-opacity="0.75"/>
<circle cx="90.75" cy="207.39" r="2" fill="#eb9c9c" stroke="#db6464" stroke-width="0.8" fill-opacity="0.75"/>
<circle cx="94.2" cy="208.51" r="2" fill="#eb9c9c" stroke="#db6464" stroke-width="0.8" fill-opacity="0.75"/>
<circle cx="97.29" cy="208.13" r="2" fill="#eb9c9c" stroke="#db6464" stroke-width="0.8" fill-opacity="0.75"/>
<circle cx="71.01" cy="209.8" r="2" fill="#eb9c9c" stroke="#db6464" stroke-width="0.8" fill-opacity="0.75"/>
<circle cx="73.99" cy="209.3" r="2" fill="#eb9c9c" stroke="#db6464" stroke-width="0.8" fill-opacity="0.75"/>
<circle cx="76.5" cy="209.53" r="2" fill="#eb9c9c" stroke="#db6464" stroke-width="0.8" fill-opacity="0.75"/>
<circle cx="80.33" cy="209.88" r="2" fill="#eb9c9c" stroke="#db6464" stroke-width="0.8" fill-opacity="0.75"/>
<circle cx="82.99" cy="210.14" r="2" fill="#eb9c9c" stroke="#db6464" stroke-width="0.8" fill-opacity="0.75"/>
<circle cx="86.24" cy="209.68" r="2" fill="#eb9c9c" stroke="#db6464" stroke-width="0.8" fill-opacity="0.75"/>
<circle cx="89.74" cy="210.32" r="2" fill="#eb9c9c" stroke="#db6464" stroke-width="0.8" fill-opacity="0.75"/>
<circle cx="92.17" cy="210.12" r="2" fill="#eb9c9c" stroke="#db6464" stroke-width="0.8" fill-opacity="0.75"/>
<circle cx="95.6" cy="210.6" r="2" fill="#eb9c9c" stroke="#db6464" stroke-width="0.8" fill-opacity="0.75"/>
<circle cx="98.94" cy="209.66" r="2" fill="#eb9c9c" stroke="#db6464" stroke-width="0.8" fill-opacity="0.75"/>
<circle cx="102.33" cy="209.39" r="2" fill="#eb9c9c" stroke="#db6464" stroke-width="0.8" fill-opacity="0.75"/>
<circle cx="68.79" cy="212.41" r="2" fill="#eb9c9c" stroke="#db6464" stroke-width="0.8" fill-opacity="0.75"/>
<circle cx="71.63" cy="211.98" r="2" fill="#eb9c9c" stroke="#db6464" stroke-width="0.8" fill-opacity="0.75"/>
<circle cx="74.66" cy="212.27" r="2" fill="#eb9c9c" stroke="#db6464" stroke-width="0.8" fill-opacity="0.75"/>
<circle cx="78.7" cy="212.12" r="2" fill="#eb9c9c" stroke="#db6464" stroke-width="0.8" fill-opacity="0.75"/>
<circle cx="82" cy="211.7" r="2" fill="#eb9c9c" stroke="#db6464" stroke-width="0.8" fill-opacity="0.75"/>
<circle cx="84.95" cy="212.15" r="2" fill="#eb9c9c" stroke="#db6464" stroke-width="0.8" fill-opacity="0.75"/>
<circle cx="87.98" cy="211.93" r="2" fill="#eb9c9c" stroke="#db6464" stroke-width="0.8" fill-opacity="0.75"/>
<circle cx="91.46" cy="212.71" r="2" fill="#eb9c9c" stroke="#db6464" stroke-width="0.8" fill-opacity="0.75"/>
<circle cx="94.19" cy="212.26" r="2" fill="#eb9c9c" stroke="#db6464" stroke-width="0.8" fill-opacity="0.75"/>
<circle cx="96.86" cy="212.32" r="2" fill="#eb9c9c" stroke="#db6464" stroke-width="0.8" fill-opacity="0.75"/>
<circle cx="100.73" cy="212.79" r="2" fill="#eb9c9c" stroke="#db6464" stroke-width="0.8" fill-opacity="0.75"/>
<circle cx="104.1" cy="211.66" r="2" fill="#eb9c9c" stroke="#db6464" stroke-width="0.8" fill-opacity="0.75"/>
<circle cx="69.2" cy="214.27" r="2" fill="#eb9c9c" stroke="#db6464" stroke-width="0.8" fill-opacity="0.75"/>
<circle cx="71.85" cy="213.94" r="2" fill="#eb9c9c" stroke="#db6464" stroke-width="0.8" fill-opacity="0.75"/>
<circle cx="75.11" cy="213.39" r="2" fill="#eb9c9c" stroke="#db6464" stroke-width="0.8" fill-opacity="0.75"/>
<circle cx="78.06" cy="214.43" r="2" fill="#eb9c9c" stroke="#db6464" stroke-width="0.8" fill-opacity="0.75"/>
<circle cx="81.23" cy="213.6" r="2" fill="#eb9c9c" stroke="#db6464" stroke-width="0.8" fill-opacity="0.75"/>
<circle cx="84.63" cy="214.59" r="2" fill="#eb9c9c" stroke="#db6464" stroke-width="0.8" fill-opacity="0.75"/>
<circle cx="87.34" cy="213.92" r="2" fill="#eb9c9c" stroke="#db6464" stroke-width="0.8" fill-opacity="0.75"/>
<circle cx="90.98" cy="214.61" r="2" fill="#eb9c9c" stroke="#db6464" stroke-width="0.8" fill-opacity="0.75"/>
<circle cx="94.39" cy="214.58" r="2" fill="#eb9c9c" stroke="#db6464" stroke-width="0.8" fill-opacity="0.75"/>
<circle cx="96.83" cy="213.86" r="2" fill="#eb9c9c" stroke="#db6464" stroke-width="0.8" fill-opacity="0.75"/>
<circle cx="100.01" cy="214.61" r="2" fill="#eb9c9c" stroke="#db6464" stroke-width="0.8" fill-opacity="0.75"/>
<circle cx="103.81" cy="213.44" r="2" fill="#eb9c9c" stroke="#db6464" stroke-width="0.8" fill-opacity="0.75"/>
<circle cx="71.51" cy="215.57" r="2" fill="#eb9c9c" stroke="#db6464" stroke-width="0.8" fill-opacity="0.75"/>
<circle cx="74.78" cy="215.98" r="2" fill="#eb9c9c" stroke="#db6464" stroke-width="0.8" fill-opacity="0.75"/>
<circle cx="78.41" cy="215.62" r="2" fill="#eb9c9c" stroke="#db6464" stroke-width="0.8" fill-opacity="0.75"/>
<circle cx="80.9" cy="215.87" r="2" fill="#eb9c9c" stroke="#db6464" stroke-width="0.8" fill-opacity="0.75"/>
<circle cx="84.54" cy="216.11" r="2" fill="#eb9c9c" stroke="#db6464" stroke-width="0.8" fill-opacity="0.75"/>
<circle cx="88.44" cy="216.3" r="2" fill="#eb9c9c" stroke="#db6464" stroke-width="0.8" fill-opacity="0.75"/>
<circle cx="91.12" cy="216.19" r="2" fill="#eb9c9c" stroke="#db6464" stroke-width="0.8" fill-opacity="0.75"/>
<circle cx="94.51" cy="215.29" r="2" fill="#eb9c9c" stroke="#db6464" stroke-width="0.8" fill-opacity="0.75"/>
<circle cx="97.98" cy="216.45" r="2" fill="#eb9c9c" stroke="#db6464" stroke-width="0.8" fill-opacity="0.75"/>
<circle cx="101.15" cy="216.48" r="2" fill="#eb9c9c" stroke="#db6464" stroke-width="0.8" fill-opacity="0.75"/>
<circle cx="74.8" cy="217.84" r="2" fill="#eb9c9c" stroke="#db6464" stroke-width="0.8" fill-opacity="0.75"/>
<circle cx="77.7" cy="218.21" r="2" fill="#eb9c9c" stroke="#db6464" stroke-width="0.8" fill-opacity="0.75"/>
<circle cx="80.9" cy="217.31" r="2" fill="#eb9c9c" stroke="#db6464" stroke-width="0.8" fill-opacity="0.75"/>
<circle cx="84.33" cy="217.46" r="2" fill="#eb9c9c" stroke="#db6464" stroke-width="0.8" fill-opacity="0.75"/>
<circle cx="87.73" cy="217.28" r="2" fill="#eb9c9c" stroke="#db6464" stroke-width="0.8" fill-opacity="0.75"/>
<circle cx="90.58" cy="217.44" r="2" fill="#eb9c9c" stroke="#db6464" stroke-width="0.8" fill-opacity="0.75"/>
<circle cx="93.95" cy="217.78" r="2" fill="#eb9c9c" stroke="#db6464" stroke-width="0.8" fill-opacity="0.75"/>
<circle cx="97.11" cy="218.6" r="2" fill="#eb9c9c" stroke="#db6464" stroke-width="0.8" fill-opacity="0.75"/>
<circle cx="77.01" cy="219.44" r="2" fill="#eb9c9c" stroke="#db6464" stroke-width="0.8" fill-opacity="0.75"/>
<circle cx="79.72" cy="219.76" r="2" fill="#eb9c9c" stroke="#db6464" stroke-width="0.8" fill-opacity="0.75"/>
<circle cx="82.99" cy="219.4" r="2" fill="#eb9c9c" stroke="#db6464" stroke-width="0.8" fill-opacity="0.75"/>
<circle cx="86.72" cy="220.79" r="2" fill="#eb9c9c" stroke="#db6464" stroke-width="0.8" fill-opacity="0.75"/>
<circle cx="89.4" cy="219.97" r="2" fill="#eb9c9c" stroke="#db6464" stroke-width="0.8" fill-opacity="0.75"/>
<circle cx="92.09" cy="219.36" r="2" fill="#eb9c9c" stroke="#db6464" stroke-width="0.8" fill-opacity="0.75"/>
<circle cx="95.54" cy="219.62" r="2" fill="#eb9c9c" stroke="#db6464" stroke-width="0.8" fill-opacity="0.75"/>
<circle cx="79.19" cy="221.46" r="2" fill="#eb9c9c" stroke="#db6464" stroke-width="0.8" fill-opacity="0.75"/>
<circle cx="81.23" cy="222.72" r="2" fill="#eb9c9c" stroke="#db6464" stroke-width="0.8" fill-opacity="0.75"/>
<circle cx="84.83" cy="221.43" r="2" fill="#eb9c9c" stroke="#db6464" stroke-width="0.8" fill-opacity="0.75"/>
<circle cx="87.85" cy="221.24" r="2" fill="#eb9c9c" stroke="#db6464" stroke-width="0.8" fill-opacity="0.75"/>
<circle cx="90.83" cy="222.77" r="2" fill="#eb9c9c" stroke="#db6464" stroke-width="0.8" fill-opacity="0.75"/>
<circle cx="94.24" cy="222.31" r="2" fill="#eb9c9c" stroke="#db6464" stroke-width="0.8" fill-opacity="0.75"/>
<circle cx="81.14" cy="223.79" r="2" fill="#eb9c9c" stroke="#db6464" stroke-width="0.8" fill-opacity="0.75"/>
<circle cx="84.28" cy="224.44" r="2" fill="#eb9c9c" stroke="#db6464" stroke-width="0.8" fill-opacity="0.75"/>
<circle cx="87.96" cy="224.45" r="2" fill="#eb9c9c" stroke="#db6464" stroke-width="0.8" fill-opacity="0.75"/>
<circle cx="90.97" cy="223.56" r="2" fill="#eb9c9c" stroke="#db6464" stroke-width="0.8" fill-opacity="0.75"/>
<circle cx="84.67" cy="226.78" r="2" fill="#eb9c9c" stroke="#db6464" stroke-width="0.8" fill-opacity="0.75"/>
<circle cx="88.72" cy="226.49" r="2" fill="#eb9c9c" stroke="#db6464" stroke-width="0.8" fill-opacity="0.75"/>
<circle cx="86.62" cy="228.1" r="2" fill="#eb9c9c" stroke="#db6464" stroke-width="0.8" fill-opacity="0.35"/>
<circle cx="86.54" cy="231.6" r="2" fill="#eb9c9c" stroke="#db6464" stroke-width="0.8" fill-opacity="0.35"/>
<circle cx="86.03" cy="235.7" r="2" fill="#eb9c9c" stroke="#db6464" stroke-width="0.8" fill-opacity="0.35"/>
<circle cx="86.32" cy="239.8" r="2" fill="#eb9c9c" stroke="#db6464" stroke-width="0.8" fill-opacity="0.35"/>
<circle cx="86.16" cy="243.3" r="2" fill="#eb9c9c" stroke="#db6464" stroke-width="0.8" fill-opacity="0.35"/>
<circle cx="85.83" cy="249.5" r="2" fill="#eb9c9c" stroke="#db6464" stroke-width="0.8" fill-opacity="0.35"/>
<circle cx="85.83" cy="255" r="2" fill="#eb9c9c" stroke="#db6464" stroke-width="0.8" fill-opacity="0.35"/>
<circle cx="86.08" cy="258.4" r="2" fill="#eb9c9c" stroke="#db6464" stroke-width="0.8" fill-opacity="0.35"/>
<circle cx="86.06" cy="261.9" r="2" fill="#eb9c9c" stroke="#db6464" stroke-width="0.8" fill-opacity="0.35"/>
<circle cx="86.49" cy="266.7" r="2" fill="#eb9c9c" stroke="#db6464" stroke-width="0.8" fill-opacity="0.35"/>
<circle cx="86.76" cy="270.2" r="2" fill="#eb9c9c" stroke="#db6464" stroke-width="0.8" fill-opacity="0.35"/>
<circle cx="86.25" cy="273.6" r="2" fill="#eb9c9c" stroke="#db6464" stroke-width="0.8" fill-opacity="0.35"/>
<circle cx="86.74" cy="277.8" r="2" fill="#eb9c9c" stroke="#db6464" stroke-width="0.8" fill-opacity="0.35"/>
<circle cx="86.79" cy="279.8" r="2" fill="#eb9c9c" stroke="#db6464" stroke-width="0.8" fill-opacity="0.35"/>
<circle cx="86.76" cy="281.9" r="2" fill="#eb9c9c" stroke="#db6464" stroke-width="0.8" fill-opacity="0.35"/>
<circle cx="86.16" cy="284" r="2" fill="#eb9c9c" stroke="#db6464" stroke-width="0.8" fill-opacity="0.35"/>
<circle cx="86.02" cy="285.8" r="2" fill="#eb9c9c" stroke="#db6464" stroke-width="0.8" fill-opacity="0.35"/>
<circle cx="83.3" cy="266.7" r="2" fill="#eb9c9c" stroke="#db6464" stroke-width="0.8" fill-opacity="0.35"/>
<circle cx="89.5" cy="267.4" r="2" fill="#eb9c9c" stroke="#db6464" stroke-width="0.8" fill-opacity="0.35"/>
<circle cx="84.2" cy="273.6" r="2" fill="#eb9c9c" stroke="#db6464" stroke-width="0.8" fill-opacity="0.35"/>
<circle cx="88.1" cy="274.7" r="2" fill="#eb9c9c" stroke="#db6464" stroke-width="0.8" fill-opacity="0.35"/>
<rect x="126.1" y="283.8" width="39.6" height="4.4" fill="#9a9a9a" stroke="none" stroke-width="1" rx="2"/>
<line x1="47.3" y1="202.8" x2="47.3" y2="289.7" stroke="#1e1e1e" stroke-width="1.3"/>
<line x1="46.7" y1="289.2" x2="185.5" y2="289.2" stroke="#1e1e1e" stroke-width="1.3"/>
<line x1="40.3" y1="289" x2="47.3" y2="289" stroke="#1e1e1e" stroke-width="1.1"/>
<text x="37.8" y="291.9" text-anchor="end">0</text>
<line x1="40.3" y1="260.4" x2="47.3" y2="260.4" stroke="#1e1e1e" stroke-width="1.1"/>
<text x="37.8" y="263.3" text-anchor="end">5000</text>
<line x1="40.3" y1="231.7" x2="47.3" y2="231.7" stroke="#1e1e1e" stroke-width="1.1"/>
<text x="37.8" y="234.6" text-anchor="end">10000</text>
<line x1="40.3" y1="202.8" x2="47.3" y2="202.8" stroke="#1e1e1e" stroke-width="1.1"/>
<text x="37.8" y="205.7" text-anchor="end">15000</text>
<line x1="86.2" y1="289.2" x2="86.2" y2="295.2" stroke="#1e1e1e" stroke-width="1.1"/>
<line x1="145.8" y1="289.2" x2="145.8" y2="295.2" stroke="#1e1e1e" stroke-width="1.1"/>
<text x="86.2" y="304" text-anchor="middle">MPXV</text>
<text x="81.5" y="315.3" text-anchor="middle">(117/118)</text>
<text x="145.8" y="304" text-anchor="middle">Non-MPXV</text>
<text x="142" y="315.3" text-anchor="middle">(0/80)</text>
<text x="9.2" y="315.3">PR</text>
<text x="8.3" y="250.5" text-anchor="middle" transform="rotate(-90 8.3 250.5)">Fluorescence (a.u.)</text>
<text x="234" y="185.5" font-weight="bold" font-size="10.5">e</text>
<text x="356" y="188.4" text-anchor="middle">MPXV <tspan font-style="italic">J2L</tspan></text>
<line x1="294.4" y1="194.8" x2="427.5" y2="194.8" stroke="#1e1e1e" stroke-width="1.2"/>
<text x="257.3" y="206">PR</text>
<text x="304.6" y="206" text-anchor="middle">59/59</text>
<text x="332.2" y="206" text-anchor="middle">31/31</text>
<text x="355.5" y="206" text-anchor="middle">9/9</text>
<text x="375" y="206" text-anchor="middle">7/7</text>
<text x="395" y="206" text-anchor="middle">5/6</text>
<text x="416.2" y="206" text-anchor="middle">6/6</text>
<line x1="294.4" y1="303.4" x2="433.4" y2="303.4" stroke="#1e1e1e" stroke-width="1" stroke-dasharray="3,2"/>
<line x1="308.6" y1="239" x2="308.6" y2="303.1" stroke="#b8862e" stroke-width="1"/>
<circle cx="305.88" cy="240.1" r="1.7" fill="#c79a4a" stroke="#b8862e" stroke-width="0.7" fill-opacity="0.6"/>
<circle cx="309.11" cy="239.95" r="1.7" fill="#c79a4a" stroke="#b8862e" stroke-width="0.7" fill-opacity="0.6"/>
<circle cx="311.28" cy="240.14" r="1.7" fill="#c79a4a" stroke="#b8862e" stroke-width="0.7" fill-opacity="0.6"/>
<circle cx="303.72" cy="242.02" r="1.7" fill="#c79a4a" stroke="#b8862e" stroke-width="0.7" fill-opacity="0.6"/>
<circle cx="307.26" cy="242.47" r="1.7" fill="#c79a4a" stroke="#b8862e" stroke-width="0.7" fill-opacity="0.6"/>
<circle cx="309.61" cy="241.69" r="1.7" fill="#c79a4a" stroke="#b8862e" stroke-width="0.7" fill-opacity="0.6"/>
<circle cx="312.61" cy="242.5" r="1.7" fill="#c79a4a" stroke="#b8862e" stroke-width="0.7" fill-opacity="0.6"/>
<circle cx="303.23" cy="243.27" r="1.7" fill="#c79a4a" stroke="#b8862e" stroke-width="0.7" fill-opacity="0.6"/>
<circle cx="306.38" cy="244.74" r="1.7" fill="#c79a4a" stroke="#b8862e" stroke-width="0.7" fill-opacity="0.6"/>
<circle cx="308.78" cy="244.18" r="1.7" fill="#c79a4a" stroke="#b8862e" stroke-width="0.7" fill-opacity="0.6"/>
<circle cx="310.99" cy="243.22" r="1.7" fill="#c79a4a" stroke="#b8862e" stroke-width="0.7" fill-opacity="0.6"/>
<circle cx="314.23" cy="243.3" r="1.7" fill="#c79a4a" stroke="#b8862e" stroke-width="0.7" fill-opacity="0.6"/>
<circle cx="302.63" cy="245.59" r="1.7" fill="#c79a4a" stroke="#b8862e" stroke-width="0.7" fill-opacity="0.6"/>
<circle cx="305.24" cy="245.94" r="1.7" fill="#c79a4a" stroke="#b8862e" stroke-width="0.7" fill-opacity="0.6"/>
<circle cx="308.53" cy="246.55" r="1.7" fill="#c79a4a" stroke="#b8862e" stroke-width="0.7" fill-opacity="0.6"/>
<circle cx="311.42" cy="246.22" r="1.7" fill="#c79a4a" stroke="#b8862e" stroke-width="0.7" fill-opacity="0.6"/>
<circle cx="314.2" cy="246.26" r="1.7" fill="#c79a4a" stroke="#b8862e" stroke-width="0.7" fill-opacity="0.6"/>
<circle cx="302.95" cy="247.65" r="1.7" fill="#c79a4a" stroke="#b8862e" stroke-width="0.7" fill-opacity="0.6"/>
<circle cx="306.4" cy="248.79" r="1.7" fill="#c79a4a" stroke="#b8862e" stroke-width="0.7" fill-opacity="0.6"/>
<circle cx="309.01" cy="248.33" r="1.7" fill="#c79a4a" stroke="#b8862e" stroke-width="0.7" fill-opacity="0.6"/>
<circle cx="311.18" cy="247.57" r="1.7" fill="#c79a4a" stroke="#b8862e" stroke-width="0.7" fill-opacity="0.6"/>
<circle cx="313.95" cy="247.31" r="1.7" fill="#c79a4a" stroke="#b8862e" stroke-width="0.7" fill-opacity="0.6"/>
<circle cx="304.42" cy="249.84" r="1.7" fill="#c79a4a" stroke="#b8862e" stroke-width="0.7" fill-opacity="0.6"/>
<circle cx="307.52" cy="249.82" r="1.7" fill="#c79a4a" stroke="#b8862e" stroke-width="0.7" fill-opacity="0.6"/>
<circle cx="310.65" cy="250.56" r="1.7" fill="#c79a4a" stroke="#b8862e" stroke-width="0.7" fill-opacity="0.6"/>
<circle cx="312.5" cy="249.54" r="1.7" fill="#c79a4a" stroke="#b8862e" stroke-width="0.7" fill-opacity="0.6"/>
<circle cx="306.43" cy="251.95" r="1.7" fill="#c79a4a" stroke="#b8862e" stroke-width="0.7" fill-opacity="0.6"/>
<circle cx="309.18" cy="251.84" r="1.7" fill="#c79a4a" stroke="#b8862e" stroke-width="0.7" fill-opacity="0.6"/>
<circle cx="310.75" cy="252.21" r="1.7" fill="#c79a4a" stroke="#b8862e" stroke-width="0.7" fill-opacity="0.6"/>
<circle cx="308.82" cy="255" r="1.7" fill="#c79a4a" stroke="#b8862e" stroke-width="0.7" fill-opacity="0.6"/>
<circle cx="308.42" cy="258" r="1.7" fill="#c79a4a" stroke="#b8862e" stroke-width="0.7" fill-opacity="0.6"/>
<circle cx="308.27" cy="261" r="1.7" fill="#c79a4a" stroke="#b8862e" stroke-width="0.7" fill-opacity="0.6"/>
<circle cx="308.47" cy="264" r="1.7" fill="#c79a4a" stroke="#b8862e" stroke-width="0.7" fill-opacity="0.6"/>
<circle cx="308.97" cy="267.3" r="1.7" fill="#c79a4a" stroke="#b8862e" stroke-width="0.7" fill-opacity="0.6"/>
<circle cx="308.81" cy="270.5" r="1.7" fill="#c79a4a" stroke="#b8862e" stroke-width="0.7" fill-opacity="0.6"/>
<circle cx="308.29" cy="273.5" r="1.7" fill="#c79a4a" stroke="#b8862e" stroke-width="0.7" fill-opacity="0.6"/>
<circle cx="308.4" cy="276" r="1.7" fill="#c79a4a" stroke="#b8862e" stroke-width="0.7" fill-opacity="0.6"/>
<circle cx="308.6" cy="303.1" r="1.7" fill="#b8862e" stroke="#b8862e" stroke-width="0.6"/>
<line x1="330.3" y1="240" x2="330.3" y2="295.5" stroke="#6aaec8" stroke-width="1"/>
<line x1="326.5" y1="295.5" x2="334.5" y2="295.5" stroke="#6aaec8" stroke-width="1"/>
<circle cx="328.32" cy="239.3" r="1.6" fill="#bcdbe8" stroke="#6aaec8" stroke-width="0.7" fill-opacity="0.7"/>
<circle cx="332.16" cy="239.48" r="1.6" fill="#bcdbe8" stroke="#6aaec8" stroke-width="0.7" fill-opacity="0.7"/>
<circle cx="327.04" cy="241.92" r="1.6" fill="#bcdbe8" stroke="#6aaec8" stroke-width="0.7" fill-opacity="0.7"/>
<circle cx="329.93" cy="242.37" r="1.6" fill="#bcdbe8" stroke="#6aaec8" stroke-width="0.7" fill-opacity="0.7"/>
<circle cx="333.19" cy="242.23" r="1.6" fill="#bcdbe8" stroke="#6aaec8" stroke-width="0.7" fill-opacity="0.7"/>
<circle cx="324.64" cy="243.87" r="1.6" fill="#bcdbe8" stroke="#6aaec8" stroke-width="0.7" fill-opacity="0.7"/>
<circle cx="327.36" cy="243.63" r="1.6" fill="#bcdbe8" stroke="#6aaec8" stroke-width="0.7" fill-opacity="0.7"/>
<circle cx="330.87" cy="244.49" r="1.6" fill="#bcdbe8" stroke="#6aaec8" stroke-width="0.7" fill-opacity="0.7"/>
<circle cx="332.66" cy="244.62" r="1.6" fill="#bcdbe8" stroke="#6aaec8" stroke-width="0.7" fill-opacity="0.7"/>
<circle cx="335.15" cy="243.83" r="1.6" fill="#bcdbe8" stroke="#6aaec8" stroke-width="0.7" fill-opacity="0.7"/>
<circle cx="325.13" cy="246.23" r="1.6" fill="#bcdbe8" stroke="#6aaec8" stroke-width="0.7" fill-opacity="0.7"/>
<circle cx="327.02" cy="246.78" r="1.6" fill="#bcdbe8" stroke="#6aaec8" stroke-width="0.7" fill-opacity="0.7"/>
<circle cx="329.96" cy="245.61" r="1.6" fill="#bcdbe8" stroke="#6aaec8" stroke-width="0.7" fill-opacity="0.7"/>
<circle cx="333.43" cy="245.73" r="1.6" fill="#bcdbe8" stroke="#6aaec8" stroke-width="0.7" fill-opacity="0.7"/>
<circle cx="335.66" cy="245.32" r="1.6" fill="#bcdbe8" stroke="#6aaec8" stroke-width="0.7" fill-opacity="0.7"/>
<circle cx="324.21" cy="248.13" r="1.6" fill="#bcdbe8" stroke="#6aaec8" stroke-width="0.7" fill-opacity="0.7"/>
<circle cx="327.19" cy="248.16" r="1.6" fill="#bcdbe8" stroke="#6aaec8" stroke-width="0.7" fill-opacity="0.7"/>
<circle cx="330.15" cy="247.93" r="1.6" fill="#bcdbe8" stroke="#6aaec8" stroke-width="0.7" fill-opacity="0.7"/>
<circle cx="333.65" cy="247.97" r="1.6" fill="#bcdbe8" stroke="#6aaec8" stroke-width="0.7" fill-opacity="0.7"/>
<circle cx="335.99" cy="248.59" r="1.6" fill="#bcdbe8" stroke="#6aaec8" stroke-width="0.7" fill-opacity="0.7"/>
<circle cx="324.32" cy="249.45" r="1.6" fill="#bcdbe8" stroke="#6aaec8" stroke-width="0.7" fill-opacity="0.7"/>
<circle cx="327.99" cy="250.51" r="1.6" fill="#bcdbe8" stroke="#6aaec8" stroke-width="0.7" fill-opacity="0.7"/>
<circle cx="330" cy="249.5" r="1.6" fill="#bcdbe8" stroke="#6aaec8" stroke-width="0.7" fill-opacity="0.7"/>
<circle cx="333.39" cy="250.7" r="1.6" fill="#bcdbe8" stroke="#6aaec8" stroke-width="0.7" fill-opacity="0.7"/>
<circle cx="335.54" cy="250.72" r="1.6" fill="#bcdbe8" stroke="#6aaec8" stroke-width="0.7" fill-opacity="0.7"/>
<circle cx="326.26" cy="252.17" r="1.6" fill="#bcdbe8" stroke="#6aaec8" stroke-width="0.7" fill-opacity="0.7"/>
<circle cx="328.71" cy="251.37" r="1.6" fill="#bcdbe8" stroke="#6aaec8" stroke-width="0.7" fill-opacity="0.7"/>
<circle cx="331.25" cy="252.74" r="1.6" fill="#bcdbe8" stroke="#6aaec8" stroke-width="0.7" fill-opacity="0.7"/>
<circle cx="334.49" cy="252.33" r="1.6" fill="#bcdbe8" stroke="#6aaec8" stroke-width="0.7" fill-opacity="0.7"/>
<circle cx="327.34" cy="255.02" r="1.6" fill="#bcdbe8" stroke="#6aaec8" stroke-width="0.7" fill-opacity="0.7"/>
<circle cx="330.42" cy="254.17" r="1.6" fill="#bcdbe8" stroke="#6aaec8" stroke-width="0.7" fill-opacity="0.7"/>
<circle cx="332.58" cy="254.85" r="1.6" fill="#bcdbe8" stroke="#6aaec8" stroke-width="0.7" fill-opacity="0.7"/>
<circle cx="329.96" cy="264.4" r="1.6" fill="#bcdbe8" stroke="#6aaec8" stroke-width="0.7" fill-opacity="0.7"/>
<circle cx="330.08" cy="275" r="1.6" fill="#bcdbe8" stroke="#6aaec8" stroke-width="0.7" fill-opacity="0.7"/>
<circle cx="330.35" cy="289.6" r="1.6" fill="#bcdbe8" stroke="#6aaec8" stroke-width="0.7" fill-opacity="0.7"/>
<circle cx="330.58" cy="292.6" r="1.6" fill="#bcdbe8" stroke="#6aaec8" stroke-width="0.7" fill-opacity="0.7"/>
<circle cx="330.39" cy="295.5" r="1.6" fill="#bcdbe8" stroke="#6aaec8" stroke-width="0.7" fill-opacity="0.7"/>
<line x1="352.3" y1="242.4" x2="352.3" y2="250.3" stroke="#22a022" stroke-width="1"/>
<line x1="352.3" y1="293.4" x2="352.3" y2="300.2" stroke="#22a022" stroke-width="1"/>
<line x1="348.8" y1="242.4" x2="355.8" y2="242.4" stroke="#22a022" stroke-width="1"/>
<rect x="345.3" y="250.3" width="14.3" height="43.1" fill="#c7d7c7" stroke="#22a022" stroke-width="1"/>
<line x1="345.3" y1="267.9" x2="359.6" y2="267.9" stroke="#22a022" stroke-width="1"/>
<circle cx="352.3" cy="242.4" r="1.75" fill="none" stroke="#22a022" stroke-width="0.85"/>
<circle cx="352.3" cy="246.5" r="1.75" fill="none" stroke="#22a022" stroke-width="0.85"/>
<circle cx="352.3" cy="253.5" r="1.75" fill="none" stroke="#22a022" stroke-width="0.85"/>
<circle cx="352.3" cy="259" r="1.75" fill="none" stroke="#22a022" stroke-width="0.85"/>
<circle cx="349" cy="267.9" r="1.75" fill="none" stroke="#22a022" stroke-width="0.85"/>
<circle cx="355.8" cy="267.9" r="1.75" fill="none" stroke="#22a022" stroke-width="0.85"/>
<circle cx="352.3" cy="289.3" r="1.75" fill="none" stroke="#22a022" stroke-width="0.85"/>
<circle cx="350" cy="300.2" r="1.75" fill="none" stroke="#22a022" stroke-width="0.85"/>
<circle cx="355.3" cy="299.2" r="1.75" fill="none" stroke="#22a022" stroke-width="0.85"/>
<line x1="374.3" y1="244.7" x2="374.3" y2="250.3" stroke="#5ea8f2" stroke-width="1"/>
<line x1="374.3" y1="279.6" x2="374.3" y2="294.6" stroke="#5ea8f2" stroke-width="1"/>
<line x1="370.8" y1="244.7" x2="377.8" y2="244.7" stroke="#5ea8f2" stroke-width="1"/>
<line x1="370.8" y1="294.6" x2="377.8" y2="294.6" stroke="#5ea8f2" stroke-width="1"/>
<rect x="367.3" y="250.3" width="14.1" height="29.3" fill="#d6e3f5" stroke="#5ea8f2" stroke-width="1"/>
<circle cx="374.3" cy="244.7" r="1.75" fill="none" stroke="#5ea8f2" stroke-width="0.85"/>
<circle cx="371" cy="250.5" r="1.75" fill="none" stroke="#5ea8f2" stroke-width="0.85"/>
<circle cx="377.5" cy="250.5" r="1.75" fill="none" stroke="#5ea8f2" stroke-width="0.85"/>
<circle cx="371" cy="254.5" r="1.75" fill="none" stroke="#5ea8f2" stroke-width="0.85"/>
<circle cx="377.5" cy="254.5" r="1.75" fill="none" stroke="#5ea8f2" stroke-width="0.85"/>
<circle cx="374.3" cy="279.8" r="1.75" fill="none" stroke="#5ea8f2" stroke-width="0.85"/>
<circle cx="374.3" cy="294.6" r="1.75" fill="none" stroke="#5ea8f2" stroke-width="0.85"/>
<line x1="396.3" y1="243.2" x2="396.3" y2="247.3" stroke="#f0924a" stroke-width="1"/>
<line x1="396.3" y1="293.4" x2="396.3" y2="304.9" stroke="#f0924a" stroke-width="1"/>
<line x1="392.8" y1="243.2" x2="399.8" y2="243.2" stroke="#f0924a" stroke-width="1"/>
<rect x="389.3" y="247.3" width="14.4" height="46.1" fill="#f9ddc6" stroke="#f0924a" stroke-width="1"/>
<line x1="389.3" y1="271.4" x2="403.7" y2="271.4" stroke="#f0924a" stroke-width="1"/>
<circle cx="396.3" cy="243.2" r="1.75" fill="none" stroke="#f0924a" stroke-width="0.85"/>
<circle cx="396.3" cy="248.5" r="1.75" fill="none" stroke="#f0924a" stroke-width="0.85"/>
<circle cx="396.3" cy="253.5" r="1.75" fill="none" stroke="#f0924a" stroke-width="0.85"/>
<circle cx="392.8" cy="289.9" r="1.75" fill="none" stroke="#f0924a" stroke-width="0.85"/>
<circle cx="399.8" cy="289.9" r="1.75" fill="none" stroke="#f0924a" stroke-width="0.85"/>
<circle cx="396.3" cy="304.5" r="1.75" fill="none" stroke="#f0924a" stroke-width="0.85"/>
<line x1="418.4" y1="248.5" x2="418.4" y2="247.9" stroke="#b4b4d2" stroke-width="1"/>
<line x1="418.4" y1="276.5" x2="418.4" y2="294.6" stroke="#b4b4d2" stroke-width="1"/>
<line x1="414.9" y1="294.6" x2="421.9" y2="294.6" stroke="#b4b4d2" stroke-width="1"/>
<rect x="411.4" y="247.9" width="14.3" height="28.6" fill="#e6e6ef" stroke="#b4b4d2" stroke-width="1"/>
<line x1="411.4" y1="248.5" x2="425.7" y2="248.5" stroke="#b4b4d2" stroke-width="1"/>
<circle cx="412.5" cy="248" r="1.75" fill="none" stroke="#b4b4d2" stroke-width="0.85"/>
<circle cx="416" cy="249" r="1.75" fill="none" stroke="#b4b4d2" stroke-width="0.85"/>
<circle cx="419.5" cy="249" r="1.75" fill="none" stroke="#b4b4d2" stroke-width="0.85"/>
<circle cx="424.5" cy="247.8" r="1.75" fill="none" stroke="#b4b4d2" stroke-width="0.85"/>
<circle cx="418.4" cy="271.3" r="1.75" fill="none" stroke="#b4b4d2" stroke-width="0.85"/>
<circle cx="418.4" cy="294.6" r="1.75" fill="none" stroke="#b4b4d2" stroke-width="0.85"/>
<line x1="294.4" y1="215.8" x2="294.4" y2="306.9" stroke="#1e1e1e" stroke-width="1.3"/>
<line x1="293.8" y1="306.4" x2="433.4" y2="306.4" stroke="#1e1e1e" stroke-width="1.3"/>
<line x1="287.4" y1="306.4" x2="294.4" y2="306.4" stroke="#1e1e1e" stroke-width="1.1"/>
<text x="284.9" y="309.3" text-anchor="end">0</text>
<line x1="287.4" y1="283.75" x2="294.4" y2="283.75" stroke="#1e1e1e" stroke-width="1.1"/>
<text x="284.9" y="286.65" text-anchor="end">5000</text>
<line x1="287.4" y1="261.1" x2="294.4" y2="261.1" stroke="#1e1e1e" stroke-width="1.1"/>
<text x="284.9" y="264" text-anchor="end">10000</text>
<line x1="287.4" y1="238.45" x2="294.4" y2="238.45" stroke="#1e1e1e" stroke-width="1.1"/>
<text x="284.9" y="241.35" text-anchor="end">15000</text>
<line x1="287.4" y1="215.8" x2="294.4" y2="215.8" stroke="#1e1e1e" stroke-width="1.1"/>
<text x="284.9" y="218.7" text-anchor="end">20000</text>
<line x1="308.4" y1="306.4" x2="308.4" y2="312.9" stroke="#1e1e1e" stroke-width="1.1"/>
<text x="311.4" y="321" text-anchor="end" font-size="8.6" transform="rotate(-45 311.4 321)">Rash swab</text>
<line x1="330.3" y1="306.4" x2="330.3" y2="312.9" stroke="#1e1e1e" stroke-width="1.1"/>
<text x="333.3" y="321" text-anchor="end" font-size="8.6" transform="rotate(-45 333.3 321)">Saliva</text>
<line x1="352.2" y1="306.4" x2="352.2" y2="312.9" stroke="#1e1e1e" stroke-width="1.1"/>
<text x="355.2" y="321" text-anchor="end" font-size="8.6" transform="rotate(-45 355.2 321)">Oral swab</text>
<line x1="374.1" y1="306.4" x2="374.1" y2="312.9" stroke="#1e1e1e" stroke-width="1.1"/>
<text x="377.1" y="321" text-anchor="end" font-size="8.6" transform="rotate(-45 377.1 321)">Rectal swab</text>
<line x1="396.1" y1="306.4" x2="396.1" y2="312.9" stroke="#1e1e1e" stroke-width="1.1"/>
<text x="399.1" y="321" text-anchor="end" font-size="8.6" transform="rotate(-45 399.1 321)">Urine</text>
<line x1="418.2" y1="306.4" x2="418.2" y2="312.9" stroke="#1e1e1e" stroke-width="1.1"/>
<text x="421.2" y="321" text-anchor="end" font-size="8.6" transform="rotate(-45 421.2 321)">Plasma</text>
<text x="256" y="264.2" text-anchor="middle" transform="rotate(-90 256 264.2)">Fluorescence (a.u.)</text>
<text x="479" y="185.8" font-weight="bold" font-size="10.5">f</text>
<line x1="532.9" y1="302.4" x2="672.5" y2="302.4" stroke="#1e1e1e" stroke-width="1" stroke-dasharray="3,2"/>
<line x1="573.1" y1="205.5" x2="573.1" y2="304" stroke="#555" stroke-width="1"/>
<line x1="562.5" y1="205.5" x2="583.2" y2="205.5" stroke="#333" stroke-width="1"/>
<line x1="562.5" y1="304" x2="583.2" y2="304" stroke="#555" stroke-width="1"/>
<rect x="553.4" y="212.7" width="39.3" height="11.7" fill="#f6dfdf" stroke="#333" stroke-width="0.9"/>
<circle cx="571.75" cy="204.89" r="1.9" fill="#f0b0b0" stroke="#d66a6a" stroke-width="0.8" fill-opacity="0.7"/>
<circle cx="574.95" cy="205.21" r="1.9" fill="#f0b0b0" stroke="#d66a6a" stroke-width="0.8" fill-opacity="0.7"/>
<circle cx="566.99" cy="207.68" r="1.9" fill="#f0b0b0" stroke="#d66a6a" stroke-width="0.8" fill-opacity="0.7"/>
<circle cx="569.33" cy="206.94" r="1.9" fill="#f0b0b0" stroke="#d66a6a" stroke-width="0.8" fill-opacity="0.7"/>
<circle cx="573.63" cy="207.24" r="1.9" fill="#f0b0b0" stroke="#d66a6a" stroke-width="0.8" fill-opacity="0.7"/>
<circle cx="576.78" cy="206.38" r="1.9" fill="#f0b0b0" stroke="#d66a6a" stroke-width="0.8" fill-opacity="0.7"/>
<circle cx="579.46" cy="206.59" r="1.9" fill="#f0b0b0" stroke="#d66a6a" stroke-width="0.8" fill-opacity="0.7"/>
<circle cx="560.71" cy="209.62" r="1.9" fill="#f0b0b0" stroke="#d66a6a" stroke-width="0.8" fill-opacity="0.7"/>
<circle cx="563.18" cy="209.05" r="1.9" fill="#f0b0b0" stroke="#d66a6a" stroke-width="0.8" fill-opacity="0.7"/>
<circle cx="566.61" cy="210.17" r="1.9" fill="#f0b0b0" stroke="#d66a6a" stroke-width="0.8" fill-opacity="0.7"/>
<circle cx="570.31" cy="208.96" r="1.9" fill="#f0b0b0" stroke="#d66a6a" stroke-width="0.8" fill-opacity="0.7"/>
<circle cx="573.46" cy="208.92" r="1.9" fill="#f0b0b0" stroke="#d66a6a" stroke-width="0.8" fill-opacity="0.7"/>
<circle cx="576.35" cy="208.9" r="1.9" fill="#f0b0b0" stroke="#d66a6a" stroke-width="0.8" fill-opacity="0.7"/>
<circle cx="578.72" cy="210.09" r="1.9" fill="#f0b0b0" stroke="#d66a6a" stroke-width="0.8" fill-opacity="0.7"/>
<circle cx="582.08" cy="209.04" r="1.9" fill="#f0b0b0" stroke="#d66a6a" stroke-width="0.8" fill-opacity="0.7"/>
<circle cx="586.12" cy="210.1" r="1.9" fill="#f0b0b0" stroke="#d66a6a" stroke-width="0.8" fill-opacity="0.7"/>
<circle cx="556.48" cy="212.74" r="1.9" fill="#f0b0b0" stroke="#d66a6a" stroke-width="0.8" fill-opacity="0.7"/>
<circle cx="560.06" cy="212.28" r="1.9" fill="#f0b0b0" stroke="#d66a6a" stroke-width="0.8" fill-opacity="0.7"/>
<circle cx="562.93" cy="212.71" r="1.9" fill="#f0b0b0" stroke="#d66a6a" stroke-width="0.8" fill-opacity="0.7"/>
<circle cx="566.78" cy="212.75" r="1.9" fill="#f0b0b0" stroke="#d66a6a" stroke-width="0.8" fill-opacity="0.7"/>
<circle cx="570.3" cy="211.68" r="1.9" fill="#f0b0b0" stroke="#d66a6a" stroke-width="0.8" fill-opacity="0.7"/>
<circle cx="572.93" cy="211.47" r="1.9" fill="#f0b0b0" stroke="#d66a6a" stroke-width="0.8" fill-opacity="0.7"/>
<circle cx="575.95" cy="211.3" r="1.9" fill="#f0b0b0" stroke="#d66a6a" stroke-width="0.8" fill-opacity="0.7"/>
<circle cx="579.41" cy="212.16" r="1.9" fill="#f0b0b0" stroke="#d66a6a" stroke-width="0.8" fill-opacity="0.7"/>
<circle cx="582.32" cy="212.28" r="1.9" fill="#f0b0b0" stroke="#d66a6a" stroke-width="0.8" fill-opacity="0.7"/>
<circle cx="586" cy="211.7" r="1.9" fill="#f0b0b0" stroke="#d66a6a" stroke-width="0.8" fill-opacity="0.7"/>
<circle cx="589.85" cy="211.97" r="1.9" fill="#f0b0b0" stroke="#d66a6a" stroke-width="0.8" fill-opacity="0.7"/>
<circle cx="555.46" cy="214.47" r="1.9" fill="#f0b0b0" stroke="#d66a6a" stroke-width="0.8" fill-opacity="0.7"/>
<circle cx="559.1" cy="213.79" r="1.9" fill="#f0b0b0" stroke="#d66a6a" stroke-width="0.8" fill-opacity="0.7"/>
<circle cx="562.59" cy="213.74" r="1.9" fill="#f0b0b0" stroke="#d66a6a" stroke-width="0.8" fill-opacity="0.7"/>
<circle cx="565.48" cy="215.05" r="1.9" fill="#f0b0b0" stroke="#d66a6a" stroke-width="0.8" fill-opacity="0.7"/>
<circle cx="567.77" cy="214.96" r="1.9" fill="#f0b0b0" stroke="#d66a6a" stroke-width="0.8" fill-opacity="0.7"/>
<circle cx="571.36" cy="214.63" r="1.9" fill="#f0b0b0" stroke="#d66a6a" stroke-width="0.8" fill-opacity="0.7"/>
<circle cx="574.09" cy="213.77" r="1.9" fill="#f0b0b0" stroke="#d66a6a" stroke-width="0.8" fill-opacity="0.7"/>
<circle cx="577.47" cy="215.23" r="1.9" fill="#f0b0b0" stroke="#d66a6a" stroke-width="0.8" fill-opacity="0.7"/>
<circle cx="580.65" cy="214.91" r="1.9" fill="#f0b0b0" stroke="#d66a6a" stroke-width="0.8" fill-opacity="0.7"/>
<circle cx="584.7" cy="215.21" r="1.9" fill="#f0b0b0" stroke="#d66a6a" stroke-width="0.8" fill-opacity="0.7"/>
<circle cx="587.16" cy="214.27" r="1.9" fill="#f0b0b0" stroke="#d66a6a" stroke-width="0.8" fill-opacity="0.7"/>
<circle cx="590.55" cy="214.94" r="1.9" fill="#f0b0b0" stroke="#d66a6a" stroke-width="0.8" fill-opacity="0.7"/>
<circle cx="556.27" cy="217.4" r="1.9" fill="#f0b0b0" stroke="#d66a6a" stroke-width="0.8" fill-opacity="0.7"/>
<circle cx="560.37" cy="217.58" r="1.9" fill="#f0b0b0" stroke="#d66a6a" stroke-width="0.8" fill-opacity="0.7"/>
<circle cx="562.73" cy="217.71" r="1.9" fill="#f0b0b0" stroke="#d66a6a" stroke-width="0.8" fill-opacity="0.7"/>
<circle cx="566.06" cy="216.75" r="1.9" fill="#f0b0b0" stroke="#d66a6a" stroke-width="0.8" fill-opacity="0.7"/>
<circle cx="569.96" cy="217.67" r="1.9" fill="#f0b0b0" stroke="#d66a6a" stroke-width="0.8" fill-opacity="0.7"/>
<circle cx="572.91" cy="217.68" r="1.9" fill="#f0b0b0" stroke="#d66a6a" stroke-width="0.8" fill-opacity="0.7"/>
<circle cx="576.43" cy="216.7" r="1.9" fill="#f0b0b0" stroke="#d66a6a" stroke-width="0.8" fill-opacity="0.7"/>
<circle cx="579.43" cy="216.48" r="1.9" fill="#f0b0b0" stroke="#d66a6a" stroke-width="0.8" fill-opacity="0.7"/>
<circle cx="582.41" cy="216.44" r="1.9" fill="#f0b0b0" stroke="#d66a6a" stroke-width="0.8" fill-opacity="0.7"/>
<circle cx="586.42" cy="217.79" r="1.9" fill="#f0b0b0" stroke="#d66a6a" stroke-width="0.8" fill-opacity="0.7"/>
<circle cx="589.06" cy="216.28" r="1.9" fill="#f0b0b0" stroke="#d66a6a" stroke-width="0.8" fill-opacity="0.7"/>
<circle cx="561.24" cy="219.55" r="1.9" fill="#f0b0b0" stroke="#d66a6a" stroke-width="0.8" fill-opacity="0.7"/>
<circle cx="563.65" cy="219.08" r="1.9" fill="#f0b0b0" stroke="#d66a6a" stroke-width="0.8" fill-opacity="0.7"/>
<circle cx="566.99" cy="220.02" r="1.9" fill="#f0b0b0" stroke="#d66a6a" stroke-width="0.8" fill-opacity="0.7"/>
<circle cx="569.94" cy="219.37" r="1.9" fill="#f0b0b0" stroke="#d66a6a" stroke-width="0.8" fill-opacity="0.7"/>
<circle cx="572.57" cy="220.17" r="1.9" fill="#f0b0b0" stroke="#d66a6a" stroke-width="0.8" fill-opacity="0.7"/>
<circle cx="575.65" cy="219.49" r="1.9" fill="#f0b0b0" stroke="#d66a6a" stroke-width="0.8" fill-opacity="0.7"/>
<circle cx="579.73" cy="218.91" r="1.9" fill="#f0b0b0" stroke="#d66a6a" stroke-width="0.8" fill-opacity="0.7"/>
<circle cx="582.71" cy="220.22" r="1.9" fill="#f0b0b0" stroke="#d66a6a" stroke-width="0.8" fill-opacity="0.7"/>
<circle cx="585.7" cy="219.96" r="1.9" fill="#f0b0b0" stroke="#d66a6a" stroke-width="0.8" fill-opacity="0.7"/>
<circle cx="564.29" cy="221.9" r="1.9" fill="#f0b0b0" stroke="#d66a6a" stroke-width="0.8" fill-opacity="0.7"/>
<circle cx="567.68" cy="222.55" r="1.9" fill="#f0b0b0" stroke="#d66a6a" stroke-width="0.8" fill-opacity="0.7"/>
<circle cx="571.19" cy="221.93" r="1.9" fill="#f0b0b0" stroke="#d66a6a" stroke-width="0.8" fill-opacity="0.7"/>
<circle cx="575.37" cy="222.56" r="1.9" fill="#f0b0b0" stroke="#d66a6a" stroke-width="0.8" fill-opacity="0.7"/>
<circle cx="578.67" cy="221.93" r="1.9" fill="#f0b0b0" stroke="#d66a6a" stroke-width="0.8" fill-opacity="0.7"/>
<circle cx="581.42" cy="222.37" r="1.9" fill="#f0b0b0" stroke="#d66a6a" stroke-width="0.8" fill-opacity="0.7"/>
<circle cx="567.82" cy="224.17" r="1.9" fill="#f0b0b0" stroke="#d66a6a" stroke-width="0.8" fill-opacity="0.7"/>
<circle cx="571.23" cy="223.93" r="1.9" fill="#f0b0b0" stroke="#d66a6a" stroke-width="0.8" fill-opacity="0.7"/>
<circle cx="574.7" cy="225.28" r="1.9" fill="#f0b0b0" stroke="#d66a6a" stroke-width="0.8" fill-opacity="0.7"/>
<circle cx="578.9" cy="224.7" r="1.9" fill="#f0b0b0" stroke="#d66a6a" stroke-width="0.8" fill-opacity="0.7"/>
<circle cx="571.1" cy="226.74" r="1.9" fill="#f0b0b0" stroke="#d66a6a" stroke-width="0.8" fill-opacity="0.7"/>
<circle cx="574.61" cy="226.64" r="1.9" fill="#f0b0b0" stroke="#d66a6a" stroke-width="0.8" fill-opacity="0.7"/>
<circle cx="573.33" cy="231" r="1.9" fill="#f0b0b0" stroke="#d66a6a" stroke-width="0.8" fill-opacity="0.7"/>
<circle cx="573.39" cy="234" r="1.9" fill="#f0b0b0" stroke="#d66a6a" stroke-width="0.8" fill-opacity="0.7"/>
<circle cx="572.99" cy="237" r="1.9" fill="#f0b0b0" stroke="#d66a6a" stroke-width="0.8" fill-opacity="0.7"/>
<circle cx="573.33" cy="242" r="1.9" fill="#f0b0b0" stroke="#d66a6a" stroke-width="0.8" fill-opacity="0.7"/>
<circle cx="573.32" cy="246.7" r="1.9" fill="#f0b0b0" stroke="#d66a6a" stroke-width="0.8" fill-opacity="0.7"/>
<circle cx="573.26" cy="251.9" r="1.9" fill="#f0b0b0" stroke="#d66a6a" stroke-width="0.8" fill-opacity="0.7"/>
<circle cx="573.23" cy="273.5" r="1.9" fill="#f0b0b0" stroke="#d66a6a" stroke-width="0.8" fill-opacity="0.7"/>
<circle cx="573.31" cy="280.8" r="1.9" fill="#f0b0b0" stroke="#d66a6a" stroke-width="0.8" fill-opacity="0.7"/>
<circle cx="572.99" cy="283.5" r="1.9" fill="#f0b0b0" stroke="#d66a6a" stroke-width="0.8" fill-opacity="0.7"/>
<circle cx="573.26" cy="287.9" r="1.9" fill="#f0b0b0" stroke="#d66a6a" stroke-width="0.8" fill-opacity="0.7"/>
<circle cx="572.92" cy="297.5" r="1.9" fill="#f0b0b0" stroke="#d66a6a" stroke-width="0.8" fill-opacity="0.7"/>
<circle cx="571" cy="280.8" r="1.9" fill="#f0b0b0" stroke="#d66a6a" stroke-width="0.8" fill-opacity="0.7"/>
<circle cx="575.5" cy="280.8" r="1.9" fill="#f0b0b0" stroke="#d66a6a" stroke-width="0.8" fill-opacity="0.7"/>
<line x1="632.6" y1="211.6" x2="632.6" y2="301" stroke="#222" stroke-width="1"/>
<line x1="622" y1="211.6" x2="642.2" y2="211.6" stroke="#222" stroke-width="1"/>
<line x1="622" y1="301" x2="642.2" y2="301" stroke="#222" stroke-width="1"/>
<rect x="613.3" y="216.4" width="38.6" height="25.9" fill="#c6dbe3" stroke="#333" stroke-width="1"/>
<circle cx="614.7" cy="216.4" r="1.6" fill="none" stroke="#2a9ab2" stroke-width="0.9"/>
<circle cx="621.7" cy="213.4" r="1.6" fill="none" stroke="#2a9ab2" stroke-width="0.9"/>
<circle cx="629.1" cy="211.6" r="1.6" fill="none" stroke="#2a9ab2" stroke-width="0.9"/>
<circle cx="636.1" cy="211.1" r="1.6" fill="none" stroke="#2a9ab2" stroke-width="0.9"/>
<circle cx="629.1" cy="216.9" r="1.6" fill="none" stroke="#2a9ab2" stroke-width="0.9"/>
<circle cx="636.1" cy="216.9" r="1.6" fill="none" stroke="#2a9ab2" stroke-width="0.9"/>
<circle cx="643.1" cy="216.9" r="1.6" fill="none" stroke="#2a9ab2" stroke-width="0.9"/>
<circle cx="651" cy="216" r="1.6" fill="none" stroke="#2a9ab2" stroke-width="0.9"/>
<circle cx="632.6" cy="222.7" r="1.6" fill="none" stroke="#2a9ab2" stroke-width="0.9"/>
<circle cx="632.6" cy="227" r="1.6" fill="none" stroke="#2a9ab2" stroke-width="0.9"/>
<circle cx="632.6" cy="259" r="1.6" fill="none" stroke="#2a9ab2" stroke-width="0.9"/>
<circle cx="632.6" cy="266" r="1.6" fill="none" stroke="#2a9ab2" stroke-width="0.9"/>
<circle cx="632.6" cy="301" r="1.6" fill="none" stroke="#2a9ab2" stroke-width="0.9"/>
<line x1="532.9" y1="202.9" x2="532.9" y2="306.5" stroke="#1e1e1e" stroke-width="1.3"/>
<line x1="532.3" y1="306" x2="672.5" y2="306" stroke="#1e1e1e" stroke-width="1.3"/>
<line x1="525.9" y1="306" x2="532.9" y2="306" stroke="#1e1e1e" stroke-width="1.1"/>
<text x="523.4" y="308.9" text-anchor="end">0</text>
<line x1="525.9" y1="271.6" x2="532.9" y2="271.6" stroke="#1e1e1e" stroke-width="1.1"/>
<text x="523.4" y="274.5" text-anchor="end">5000</text>
<line x1="525.9" y1="237.3" x2="532.9" y2="237.3" stroke="#1e1e1e" stroke-width="1.1"/>
<text x="523.4" y="240.2" text-anchor="end">10000</text>
<line x1="525.9" y1="202.9" x2="532.9" y2="202.9" stroke="#1e1e1e" stroke-width="1.1"/>
<text x="523.4" y="205.8" text-anchor="end">15000</text>
<line x1="573.3" y1="306" x2="573.3" y2="312" stroke="#1e1e1e" stroke-width="1.1"/>
<line x1="632.5" y1="306" x2="632.5" y2="312" stroke="#1e1e1e" stroke-width="1.1"/>
<text x="573.3" y="322.8" text-anchor="middle">HIV</text>
<text x="573.3" y="332.7" text-anchor="middle">(90/91)</text>
<text x="632.5" y="322.8" text-anchor="middle">Non-HIV</text>
<text x="632.5" y="332.7" text-anchor="middle">(13/13)</text>
<text x="496.3" y="332.7">PR</text>
<text x="494.8" y="257" text-anchor="middle" transform="rotate(-90 494.8 257)">Fluorescence (a.u.)</text>
<text x="0.4" y="389.5" font-weight="bold" font-size="10.5">g</text>
<line x1="34.6" y1="424.23" x2="173.3" y2="424.23" stroke="#1e1e1e" stroke-width="1" stroke-dasharray="3,2"/>
<line x1="34.6" y1="480.75" x2="173.3" y2="480.75" stroke="#1e1e1e" stroke-width="1" stroke-dasharray="3,2"/>
<circle cx="40.15" cy="480.75" r="1.75" fill="none" stroke="#d46a6a" stroke-width="0.95"/>
<circle cx="45.69" cy="480.75" r="1.75" fill="none" stroke="#d46a6a" stroke-width="0.95"/>
<circle cx="51.24" cy="480.75" r="1.75" fill="none" stroke="#d46a6a" stroke-width="0.95"/>
<circle cx="56.79" cy="480.75" r="1.75" fill="none" stroke="#d46a6a" stroke-width="0.95"/>
<circle cx="62.34" cy="480.75" r="1.75" fill="none" stroke="#d46a6a" stroke-width="0.95"/>
<circle cx="67.88" cy="480.75" r="1.75" fill="none" stroke="#d46a6a" stroke-width="0.95"/>
<circle cx="73.43" cy="480.75" r="1.75" fill="none" stroke="#d46a6a" stroke-width="0.95"/>
<circle cx="78.98" cy="480.75" r="1.75" fill="none" stroke="#d46a6a" stroke-width="0.95"/>
<circle cx="84.52" cy="480.75" r="1.75" fill="none" stroke="#d46a6a" stroke-width="0.95"/>
<circle cx="90.07" cy="480.75" r="1.75" fill="none" stroke="#d46a6a" stroke-width="0.95"/>
<circle cx="95.62" cy="480.75" r="1.75" fill="none" stroke="#d46a6a" stroke-width="0.95"/>
<circle cx="101.16" cy="480.75" r="1.75" fill="none" stroke="#d46a6a" stroke-width="0.95"/>
<circle cx="106.71" cy="480.75" r="1.75" fill="none" stroke="#d46a6a" stroke-width="0.95"/>
<circle cx="112.26" cy="480.75" r="1.75" fill="none" stroke="#d46a6a" stroke-width="0.95"/>
<circle cx="51.24" cy="477.78" r="1.75" fill="none" stroke="#d46a6a" stroke-width="0.95"/>
<circle cx="84.52" cy="477.78" r="1.75" fill="none" stroke="#d46a6a" stroke-width="0.95"/>
<circle cx="117.81" cy="424.23" r="1.75" fill="none" stroke="#d46a6a" stroke-width="0.95"/>
<circle cx="151.09" cy="430.18" r="1.75" fill="none" stroke="#d46a6a" stroke-width="0.95"/>
<circle cx="151.09" cy="442.08" r="1.75" fill="none" stroke="#d46a6a" stroke-width="0.95"/>
<circle cx="145.54" cy="451" r="1.75" fill="none" stroke="#d46a6a" stroke-width="0.95"/>
<circle cx="117.81" cy="465.88" r="1.75" fill="none" stroke="#d46a6a" stroke-width="0.95"/>
<circle cx="112.26" cy="474.8" r="1.75" fill="none" stroke="#d46a6a" stroke-width="0.95"/>
<circle cx="117.81" cy="474.8" r="1.75" fill="none" stroke="#d46a6a" stroke-width="0.95"/>
<circle cx="123.35" cy="477.78" r="1.75" fill="none" stroke="#d46a6a" stroke-width="0.95"/>
<circle cx="123.35" cy="480.75" r="1.75" fill="none" stroke="#d46a6a" stroke-width="0.95"/>
<circle cx="128.9" cy="474.8" r="1.75" fill="none" stroke="#d46a6a" stroke-width="0.95"/>
<circle cx="134.45" cy="471.83" r="1.75" fill="none" stroke="#d46a6a" stroke-width="0.95"/>
<circle cx="134.45" cy="477.78" r="1.75" fill="none" stroke="#d46a6a" stroke-width="0.95"/>
<circle cx="139.99" cy="468.85" r="1.75" fill="none" stroke="#d46a6a" stroke-width="0.95"/>
<circle cx="139.99" cy="477.78" r="1.75" fill="none" stroke="#d46a6a" stroke-width="0.95"/>
<circle cx="139.99" cy="480.75" r="1.75" fill="none" stroke="#d46a6a" stroke-width="0.95"/>
<circle cx="145.54" cy="468.85" r="1.75" fill="none" stroke="#d46a6a" stroke-width="0.95"/>
<circle cx="145.54" cy="462.9" r="1.75" fill="none" stroke="#d46a6a" stroke-width="0.95"/>
<circle cx="145.54" cy="477.78" r="1.75" fill="none" stroke="#d46a6a" stroke-width="0.95"/>
<circle cx="145.54" cy="480.75" r="1.75" fill="none" stroke="#d46a6a" stroke-width="0.95"/>
<circle cx="151.09" cy="459.93" r="1.75" fill="none" stroke="#d46a6a" stroke-width="0.95"/>
<circle cx="151.09" cy="462.9" r="1.75" fill="none" stroke="#d46a6a" stroke-width="0.95"/>
<circle cx="156.63" cy="459.93" r="1.75" fill="none" stroke="#d46a6a" stroke-width="0.95"/>
<circle cx="162.18" cy="456.95" r="1.75" fill="none" stroke="#d46a6a" stroke-width="0.95"/>
<circle cx="162.18" cy="471.83" r="1.75" fill="none" stroke="#d46a6a" stroke-width="0.95"/>
<circle cx="167.73" cy="459.93" r="1.75" fill="none" stroke="#d46a6a" stroke-width="0.95"/>
<circle cx="162.18" cy="394.48" r="1.1" fill="#aaa" stroke="#999" stroke-width="0.4"/>
<circle cx="162.18" cy="394.48" r="5.3" fill="none" stroke="#b83028" stroke-width="1.1" stroke-dasharray="2.2,1"/>
<rect x="34.6" y="394.4" width="138.7" height="104.2" fill="none" stroke="#1e1e1e" stroke-width="1.2"/>
<line x1="28.6" y1="483.73" x2="34.6" y2="483.73" stroke="#1e1e1e" stroke-width="1.1"/>
<text x="26.1" y="486.62" text-anchor="end">10</text>
<line x1="28.6" y1="453.98" x2="34.6" y2="453.98" stroke="#1e1e1e" stroke-width="1.1"/>
<text x="26.1" y="456.88" text-anchor="end">20</text>
<line x1="28.6" y1="424.23" x2="34.6" y2="424.23" stroke="#1e1e1e" stroke-width="1.1"/>
<text x="26.1" y="427.12" text-anchor="end">30</text>
<line x1="28.6" y1="394.48" x2="34.6" y2="394.48" stroke="#1e1e1e" stroke-width="1.1"/>
<text x="26.1" y="397.38" text-anchor="end">40</text>
<line x1="34.6" y1="498.6" x2="34.6" y2="504.6" stroke="#1e1e1e" stroke-width="1.1"/>
<text x="34.6" y="514.8" text-anchor="middle">15</text>
<line x1="62.34" y1="498.6" x2="62.34" y2="504.6" stroke="#1e1e1e" stroke-width="1.1"/>
<text x="62.34" y="514.8" text-anchor="middle">20</text>
<line x1="90.07" y1="498.6" x2="90.07" y2="504.6" stroke="#1e1e1e" stroke-width="1.1"/>
<text x="90.07" y="514.8" text-anchor="middle">25</text>
<line x1="117.81" y1="498.6" x2="117.81" y2="504.6" stroke="#1e1e1e" stroke-width="1.1"/>
<text x="117.81" y="514.8" text-anchor="middle">30</text>
<line x1="145.54" y1="498.6" x2="145.54" y2="504.6" stroke="#1e1e1e" stroke-width="1.1"/>
<text x="145.54" y="514.8" text-anchor="middle">35</text>
<line x1="173.27" y1="498.6" x2="173.27" y2="504.6" stroke="#1e1e1e" stroke-width="1.1"/>
<text x="173.27" y="514.8" text-anchor="middle">40</text>
<text x="104.4" y="524.5" text-anchor="middle">qPCR Ct value</text>
<text x="9.8" y="449" text-anchor="middle" transform="rotate(-90 9.8 449)">TRACE Tt value (min)</text>
<text x="116.5" y="389.9">TRACE -</text>
<text x="177" y="426">117/118</text>
<text x="179" y="483">83/118</text>
<text x="234" y="388" font-weight="bold" font-size="10.5">h</text>
<polygon points="295.82,404.28 429.89,393.9 429.89,422.44 348.99,422.44 344.36,435.42 328.18,438.01 321.25,445.8 314.31,461.37 309.69,461.37 300.45,466.56 295.82,469.15" fill="#e6edf3"/>
<polygon points="295.82,440.61 300.45,422.44 305.07,414.66 309.69,406.88 314.31,401.69 323.56,397.79 337.43,395.2 429.89,393.9 429.89,405.58 383.66,409.47 369.79,413.36 346.68,414.66 328.18,417.25 323.56,423.74 318.94,427.63 314.31,430.23 309.69,439.31 305.07,454.88 300.45,462.67 295.82,496.4" fill="#d9d7d3"/>
<polygon points="295.82,425.04 300.45,409.47 305.07,404.28 309.69,399.09 314.31,393.9 429.89,393.9 429.89,401.69 383.66,401.69 374.41,408.17 346.68,408.17 318.94,409.47 314.31,412.06 309.69,419.85 305.07,427.63 300.45,435.42 295.82,458.77" fill="#e2dccd" fill-opacity="0.75"/>
<line x1="291.2" y1="406.88" x2="429.9" y2="406.88" stroke="#c0392b" stroke-width="1.3" stroke-dasharray="3,2"/>
<line x1="309.69" y1="406.88" x2="309.69" y2="497.7" stroke="#a8895a" stroke-width="2" stroke-dasharray="3.1,1.5"/>
<line x1="323.56" y1="401.69" x2="323.56" y2="497.7" stroke="#8fc0d2" stroke-width="1.6" stroke-dasharray="3.1,1.5"/>
<line x1="328.18" y1="406.88" x2="328.18" y2="497.7" stroke="#3a3a3a" stroke-width="1.3" stroke-dasharray="3.1,1.5"/>
<polyline points="295.82,443.2 300.45,428.41 305.07,428.41 309.69,420.11 314.31,420.11 323.56,401.69 342.05,401.69 346.68,393.9 429.89,393.9" fill="none" stroke="#6ab0c8" stroke-width="1.1" stroke-linejoin="round"/>
<polyline points="295.82,445.8 300.45,419.85 305.07,414.66 309.69,406.88 314.31,399.09 318.94,399.09 374.41,399.09 383.66,393.9 429.89,393.9" fill="none" stroke="#b8862e" stroke-width="1.1" stroke-linejoin="round"/>
<polyline points="295.82,471.75 300.45,440.61 305.07,432.82 309.69,423.74 314.31,419.85 323.56,414.66 328.18,406.88 332.81,404.28 337.43,404.28 342.05,401.69 369.79,401.69 374.41,399.09 379.04,399.09 383.66,396.5 429.89,396.5" fill="none" stroke="#3a3a3a" stroke-width="1.1" stroke-linejoin="round"/>
<circle cx="309.69" cy="406.88" r="1.2" fill="#5a4520" stroke="none" stroke-width="0.8"/>
<circle cx="323.56" cy="401.69" r="1.2" fill="#3a7a90" stroke="none" stroke-width="0.8"/>
<circle cx="328.18" cy="406.88" r="1.2" fill="#222" stroke="none" stroke-width="0.8"/>
<line x1="291.2" y1="393.9" x2="291.2" y2="498.2" stroke="#1e1e1e" stroke-width="1.3"/>
<line x1="290.6" y1="497.7" x2="429.9" y2="497.7" stroke="#1e1e1e" stroke-width="1.3"/>
<line x1="285.2" y1="497.7" x2="291.2" y2="497.7" stroke="#1e1e1e" stroke-width="1.1"/>
<text x="282.7" y="500.6" text-anchor="end">60</text>
<line x1="285.2" y1="471.75" x2="291.2" y2="471.75" stroke="#1e1e1e" stroke-width="1.1"/>
<text x="282.7" y="474.65" text-anchor="end">70</text>
<line x1="285.2" y1="445.8" x2="291.2" y2="445.8" stroke="#1e1e1e" stroke-width="1.1"/>
<text x="282.7" y="448.7" text-anchor="end">80</text>
<line x1="285.2" y1="419.85" x2="291.2" y2="419.85" stroke="#1e1e1e" stroke-width="1.1"/>
<text x="282.7" y="422.75" text-anchor="end">90</text>
<line x1="285.2" y1="393.9" x2="291.2" y2="393.9" stroke="#1e1e1e" stroke-width="1.1"/>
<text x="282.7" y="396.8" text-anchor="end">100</text>
<line x1="291.2" y1="497.7" x2="291.2" y2="503.7" stroke="#1e1e1e" stroke-width="1.1"/>
<text x="291.2" y="513.9" text-anchor="middle">10</text>
<line x1="314.31" y1="497.7" x2="314.31" y2="503.7" stroke="#1e1e1e" stroke-width="1.1"/>
<text x="314.31" y="513.9" text-anchor="middle">15</text>
<line x1="337.43" y1="497.7" x2="337.43" y2="503.7" stroke="#1e1e1e" stroke-width="1.1"/>
<text x="337.43" y="513.9" text-anchor="middle">20</text>
<line x1="360.54" y1="497.7" x2="360.54" y2="503.7" stroke="#1e1e1e" stroke-width="1.1"/>
<text x="360.54" y="513.9" text-anchor="middle">25</text>
<line x1="383.66" y1="497.7" x2="383.66" y2="503.7" stroke="#1e1e1e" stroke-width="1.1"/>
<text x="383.66" y="513.9" text-anchor="middle">30</text>
<line x1="406.77" y1="497.7" x2="406.77" y2="503.7" stroke="#1e1e1e" stroke-width="1.1"/>
<text x="406.77" y="513.9" text-anchor="middle">35</text>
<line x1="429.89" y1="497.7" x2="429.89" y2="503.7" stroke="#1e1e1e" stroke-width="1.1"/>
<text x="429.89" y="513.9" text-anchor="middle">40</text>
<text x="288.5" y="409.77" text-anchor="end" style="fill:#c0392b;stroke:#c0392b">95</text>
<text x="298.4" y="385.2" text-anchor="middle" style="fill:#b8862e;stroke:#b8862e">14</text>
<text x="316.9" y="385.2" text-anchor="middle" style="fill:#6ab0c8;stroke:#6ab0c8">17</text>
<text x="335.3" y="385.2" text-anchor="middle" style="fill:#333;stroke:#333">18</text>
<line x1="355" y1="448.3" x2="374.5" y2="448.3" stroke="#3a3a3a" stroke-width="1.1"/>
<line x1="355" y1="464.8" x2="374.5" y2="464.8" stroke="#b8862e" stroke-width="1.1"/>
<line x1="355" y1="480.2" x2="374.5" y2="480.2" stroke="#6ab0c8" stroke-width="1.1"/>
<text x="384.5" y="451.3">Total</text>
<text x="384.5" y="467.8">Rash swab</text>
<text x="384.5" y="483.2">Saliva</text>
<text x="361" y="525" text-anchor="middle">Time (min)</text>
<text x="261.3" y="449.5" text-anchor="middle" transform="rotate(-90 261.3 449.5)">Sensitivity (%)</text>
<text x="479.5" y="388.5" font-weight="bold" font-size="10.5">i</text>
<polygon points="552.3,394.7 576.69,408 609.21,426.5 641.73,440.5 666.12,446.4 666.12,465.8 641.73,452 609.21,434.8 576.69,417 552.3,410.7" fill="#d3e2e9"/>
<line x1="552.3" y1="403.5" x2="666.12" y2="456.2" stroke="#333" stroke-width="1.1"/>
<circle cx="552.3" cy="403.5" r="1.8" fill="none" stroke="#c0474e" stroke-width="0.9"/>
<circle cx="552.3" cy="404.9" r="1.8" fill="none" stroke="#c0474e" stroke-width="0.9"/>
<circle cx="552.3" cy="406.6" r="1.8" fill="none" stroke="#c0474e" stroke-width="0.9"/>
<circle cx="560.4" cy="404.5" r="1.8" fill="none" stroke="#c0474e" stroke-width="0.9"/>
<circle cx="560.4" cy="406" r="1.8" fill="none" stroke="#c0474e" stroke-width="0.9"/>
<circle cx="560.4" cy="407.2" r="1.8" fill="none" stroke="#c0474e" stroke-width="0.9"/>
<circle cx="568.6" cy="404.9" r="1.8" fill="none" stroke="#c0474e" stroke-width="0.9"/>
<circle cx="576.8" cy="406.2" r="1.8" fill="none" stroke="#c0474e" stroke-width="0.9"/>
<circle cx="576.8" cy="407.6" r="1.8" fill="none" stroke="#c0474e" stroke-width="0.9"/>
<circle cx="576.8" cy="409.2" r="1.8" fill="none" stroke="#c0474e" stroke-width="0.9"/>
<circle cx="585" cy="404.5" r="1.8" fill="none" stroke="#c0474e" stroke-width="0.9"/>
<circle cx="585" cy="415.2" r="1.8" fill="none" stroke="#c0474e" stroke-width="0.9"/>
<circle cx="585" cy="419.9" r="1.8" fill="none" stroke="#c0474e" stroke-width="0.9"/>
<circle cx="585" cy="431.1" r="1.8" fill="none" stroke="#c0474e" stroke-width="0.9"/>
<circle cx="585" cy="438.2" r="1.8" fill="none" stroke="#c0474e" stroke-width="0.9"/>
<circle cx="593.1" cy="433.8" r="1.8" fill="none" stroke="#c0474e" stroke-width="0.9"/>
<circle cx="593.1" cy="445" r="1.8" fill="none" stroke="#c0474e" stroke-width="0.9"/>
<circle cx="593.1" cy="472" r="1.8" fill="none" stroke="#c0474e" stroke-width="0.9"/>
<circle cx="600.9" cy="404.5" r="1.8" fill="none" stroke="#c0474e" stroke-width="0.9"/>
<circle cx="600.9" cy="407.2" r="1.8" fill="none" stroke="#c0474e" stroke-width="0.9"/>
<circle cx="600.9" cy="408.6" r="1.8" fill="none" stroke="#c0474e" stroke-width="0.9"/>
<circle cx="600.9" cy="423.9" r="1.8" fill="none" stroke="#c0474e" stroke-width="0.9"/>
<circle cx="609.1" cy="431.1" r="1.8" fill="none" stroke="#c0474e" stroke-width="0.9"/>
<circle cx="617.3" cy="414.3" r="1.8" fill="none" stroke="#c0474e" stroke-width="0.9"/>
<circle cx="617.3" cy="438.2" r="1.8" fill="none" stroke="#c0474e" stroke-width="0.9"/>
<circle cx="625.4" cy="411.3" r="1.8" fill="none" stroke="#c0474e" stroke-width="0.9"/>
<circle cx="625.4" cy="413.7" r="1.8" fill="none" stroke="#c0474e" stroke-width="0.9"/>
<circle cx="625.4" cy="415.8" r="1.8" fill="none" stroke="#c0474e" stroke-width="0.9"/>
<circle cx="625.4" cy="417.4" r="1.8" fill="none" stroke="#c0474e" stroke-width="0.9"/>
<circle cx="625.4" cy="441.3" r="1.8" fill="none" stroke="#c0474e" stroke-width="0.9"/>
<circle cx="633.6" cy="418.4" r="1.8" fill="none" stroke="#c0474e" stroke-width="0.9"/>
<circle cx="633.6" cy="427" r="1.8" fill="none" stroke="#c0474e" stroke-width="0.9"/>
<circle cx="633.6" cy="440.3" r="1.8" fill="none" stroke="#c0474e" stroke-width="0.9"/>
<circle cx="633.6" cy="448.9" r="1.8" fill="none" stroke="#c0474e" stroke-width="0.9"/>
<circle cx="633.6" cy="461.3" r="1.8" fill="none" stroke="#c0474e" stroke-width="0.9"/>
<circle cx="641.8" cy="448.5" r="1.8" fill="none" stroke="#c0474e" stroke-width="0.9"/>
<circle cx="641.8" cy="451.5" r="1.8" fill="none" stroke="#c0474e" stroke-width="0.9"/>
<circle cx="641.8" cy="465.4" r="1.8" fill="none" stroke="#c0474e" stroke-width="0.9"/>
<circle cx="641.8" cy="473" r="1.8" fill="none" stroke="#c0474e" stroke-width="0.9"/>
<circle cx="650" cy="449.9" r="1.8" fill="none" stroke="#c0474e" stroke-width="0.9"/>
<circle cx="657.9" cy="433.1" r="1.8" fill="none" stroke="#c0474e" stroke-width="0.9"/>
<circle cx="657.9" cy="454" r="1.8" fill="none" stroke="#c0474e" stroke-width="0.9"/>
<circle cx="657.9" cy="487.7" r="1.8" fill="none" stroke="#c0474e" stroke-width="0.9"/>
<circle cx="666.1" cy="452.6" r="1.8" fill="none" stroke="#c0474e" stroke-width="0.9"/>
<line x1="535.6" y1="390.2" x2="535.6" y2="494.8" stroke="#1e1e1e" stroke-width="1.3"/>
<line x1="535" y1="494.3" x2="674.3" y2="494.3" stroke="#1e1e1e" stroke-width="1.3"/>
<line x1="529.6" y1="494.3" x2="535.6" y2="494.3" stroke="#1e1e1e" stroke-width="1.1"/>
<text x="527.1" y="497.2" text-anchor="end">5</text>
<line x1="529.6" y1="442.25" x2="535.6" y2="442.25" stroke="#1e1e1e" stroke-width="1.1"/>
<text x="527.1" y="445.15" text-anchor="end">10</text>
<line x1="529.6" y1="390.2" x2="535.6" y2="390.2" stroke="#1e1e1e" stroke-width="1.1"/>
<text x="527.1" y="393.1" text-anchor="end">15</text>
<line x1="552.3" y1="494.3" x2="552.3" y2="500.3" stroke="#1e1e1e" stroke-width="1.1"/>
<text x="552.3" y="510.5" text-anchor="middle">25</text>
<line x1="592.95" y1="494.3" x2="592.95" y2="500.3" stroke="#1e1e1e" stroke-width="1.1"/>
<text x="592.95" y="510.5" text-anchor="middle">30</text>
<line x1="633.6" y1="494.3" x2="633.6" y2="500.3" stroke="#1e1e1e" stroke-width="1.1"/>
<text x="633.6" y="510.5" text-anchor="middle">35</text>
<line x1="674.25" y1="494.3" x2="674.25" y2="500.3" stroke="#1e1e1e" stroke-width="1.1"/>
<text x="674.25" y="510.5" text-anchor="middle">40</text>
<text x="545.7" y="461.7">r=-0.8036</text>
<text x="605" y="520.5" text-anchor="middle">Ct value</text>
<text x="508.5" y="445.6" text-anchor="middle" transform="rotate(-90 508.5 445.6)">Log<tspan font-size="5.5" dy="2">2</tspan><tspan dy="-2">(F</tspan><tspan font-size="5.5" dy="2">18</tspan><tspan dy="-2">) (a.u.)</tspan></text>
<text x="1.2" y="573.6" font-weight="bold" font-size="10.5">j</text>
<text x="32.7" y="591.1" font-size="8.55">Hospitalized</text>
<text x="32.7" y="600.7" font-size="8.55">cases</text>
<defs><linearGradient id="fadeb" x1="0" y1="0" x2="0" y2="1"><stop offset="0.55" stop-color="#fff" stop-opacity="0"/><stop offset="1" stop-color="#fff" stop-opacity="0.9"/></linearGradient></defs>
<g>
<path d="M39.3,630.5 C45,625 55,621 67.3,620 L72.3,619.2 L79.6,619.9 L84,634 C86,640 89,646 90.5,649 L86.5,658.7 C83,661 79,662.5 76,663.6 L64.8,667.6 C62,671 60,675 58.5,679.6 C50,679 38,676 33,668 C28,660 28,650 30.5,644 C33,638 36,634 39.3,630.5 Z" fill="#bababa"/>
<path d="M58,635.4 C64,637 69,640 72,644.3 C76,640 80,637 84.1,634.6 C86,641 88,647 90.5,649.1 L86.5,658.7 C83,661 79,662.5 76,663.6 L64.8,667.6 L60,666.8 C58.5,656 58,645 58,635.4 Z" fill="#a9a9a9"/>
<path d="M32,648 C37,652 45,657 51,662.6 L46,667.5 C40,666 34,662 30,657 Z" fill="#c6c6c6"/>
<path d="M67.3,620 L79.6,619.9 L81.1,619.2 C82,626 83,631 84.1,634.6 C80,637 76,640 72,644.3 C70,636 68,628 67.3,620 Z" fill="#e9e9e9"/>
<path d="M72.3,619.2 C73,613 74,606 76,602.4 C78,599.5 82,596.5 86.9,595.8 L94.2,595.8 C97.5,596.3 100,597.3 101.5,598.8 C104,600.5 105.5,602 106.6,603.9 C108.5,606.5 109.8,608.5 110.3,610.4 C111.2,612.8 111.7,614.5 111.7,616.3 C111.6,618 111.4,619.5 111,620.7 C110.2,622 109.2,623.3 108.1,624.3 C107.3,620 106.7,616.5 105.9,614.1 L104.4,611.9 C102,612.5 100,613.3 98.6,614.1 C96,615 94.5,615.8 92.7,616.3 L86.9,616.3 C86.3,615.3 85.8,614.6 85.4,614.1 L83.2,613.4 C82.4,614 82,614.8 81.8,615.5 C81.4,617 81.2,618 81.1,619.2 L79.6,619.9 Z" fill="#b8b8b8" stroke="#a5a5a5" stroke-width="0.35"/>
<path d="M81.8,615.5 C83,613.5 85,613.6 86.9,616.3 L92.7,616.3 C95,615.7 97,614.8 98.6,614.1 C100.5,613 102.5,612.2 104.4,611.9 L105.9,614.1 C106.8,617 107.5,621 108.1,624.3 C107.2,626 106,627.5 104.8,628.6 L104,630.9 C103.5,633 101,635.5 97.1,636.7 C93,638.5 89,639 85.5,638 C83.5,636 82.5,632 82.3,628 C82,624 81.5,619 81.8,615.5 Z" fill="#f3f3f3" stroke="#d4d4d4" stroke-width="0.4"/>
<path d="M81.8,615.5 C83,613.5 85,613.6 86.2,616 C86.8,618.5 86.5,621 86.2,622.1 C84.5,622.5 83,621.5 82.2,620 Z" fill="#e0e0e0"/>
<path d="M45,667 C47,664.5 49,663 51.3,662.6 C55,662.8 58,663.5 60,664 C62,665 63.5,666 64.8,666 L76,663.6 C80,662 83.5,660.5 86.5,658.7 C88,655 89.5,652 90.5,649.1 L105,649.9 C103,652.5 100,655 97.8,657.1 C95,660 93,662.5 90.5,665.2 C87,668.5 84,671 80.1,673.2 C76,675.5 72,677 68,678 C64,678.8 61,679.5 58,679.6 C53,679 49,677.5 46.5,675 C45,672.5 44.5,669.5 45,667 Z" fill="#efefef"/>
<path d="M90.5,637.9 C92,637.5 94,638.3 94.5,638.7 C98,638 102,638.5 104.5,640 C106.2,641 106.6,643 106.2,645 C106.4,647 105.8,649 105,649.9 C102,650.3 98,650 94.5,649 C92,648.5 90.8,647.8 90.5,647.5 C89.8,644 89.8,640 90.5,637.9 Z" fill="#f4f4f4" stroke="#d0d0d0" stroke-width="0.45"/>
<path d="M95,641.5 L105.5,641.5 M95.5,644.5 L106,644.5 M96,647.3 L105.3,647.3" stroke="#d8d8d8" stroke-width="0.4"/>
<path d="M99.5,622.5 C101,622 102.5,622.5 103.5,623.5 M101.5,626.5 C102.5,627.5 103.5,628.5 104.2,630.5 M98.5,633.5 C100,634 101.5,634 102.5,633.5" stroke="#bdbdbd" stroke-width="0.5" fill="none"/>
<rect x="26" y="655" width="72" height="27" fill="url(#fadeb)"/>
</g>
<circle cx="75.3" cy="628" r="1.3" fill="#eba076" stroke="none" stroke-width="0.8"/>
<circle cx="69.6" cy="668.3" r="1.3" fill="#eba076" stroke="none" stroke-width="0.8"/>
<circle cx="72.7" cy="630.5" r="1.3" fill="#eba076" stroke="none" stroke-width="0.8"/>
<circle cx="67" cy="670.8" r="1.3" fill="#eba076" stroke="none" stroke-width="0.8"/>
<circle cx="77.9" cy="630.5" r="1.3" fill="#eba076" stroke="none" stroke-width="0.8"/>
<circle cx="72.2" cy="670.8" r="1.3" fill="#eba076" stroke="none" stroke-width="0.8"/>
<circle cx="75.3" cy="633.1" r="1.3" fill="#eba076" stroke="none" stroke-width="0.8"/>
<circle cx="69.6" cy="673.4" r="1.3" fill="#eba076" stroke="none" stroke-width="0.8"/>
<line x1="98.8" y1="672.6" x2="109.5" y2="653.5" stroke="#e9b183" stroke-width="0.7"/>
<rect x="108.6" y="649.3" width="3.4" height="4.6" rx="0.8" fill="#dc3b3b" transform="rotate(30 110.3 651.6)"/>
<path d="M118.1,618 L129.8,618 L128.6,630.5 C128.4,631.5 127.5,632 126.5,632 L121.4,632 C120.4,632 119.5,631.5 119.3,630.5 Z" fill="#e3e7ed" stroke="#c5ccd6" stroke-width="0.5"/>
<rect x="116.9" y="614.6" width="13.1" height="3.6" fill="#3b88d8" stroke="none" stroke-width="1" rx="1"/>
<text x="132.8" y="626.7" font-size="8.55">Saliva</text>
<text x="113.9" y="664.1" font-size="8.45">Rash swab</text>
<text x="30" y="702">Adm.</text>
<line x1="60.4" y1="700.6" x2="145" y2="700.6" stroke="#333" stroke-width="0.9"/>
<polygon points="148,700.6 143.5,698.6 143.5,702.6" fill="#333"/>
<text x="155.3" y="702">Dis.</text>
<line x1="236" y1="681.6" x2="649.8" y2="681.6" stroke="#666" stroke-width="1.5" stroke-dasharray="2.6,1.6"/>
<polyline points="242.7,667.9 256.96,643.9 271.22,637.2 285.48,641 299.74,644.2 314,653.8 328.26,660.8 342.52,643.9 356.78,647.4 371.04,657.9 385.3,650.9 399.56,657.9 413.82,643.9 428.08,643.9 442.34,640.7 456.6,640.7 470.86,643.9 485.12,640.7 499.38,650.9 513.64,643.9 527.9,650.9 542.16,650.9 556.42,657.9 570.68,654.4 584.94,647.4 599.2,640.7 613.46,650.9 627.72,647.4 641.98,643.9" fill="none" stroke="#f4b2a7" stroke-width="1" stroke-dasharray="3,2" stroke-linejoin="round"/>
<polyline points="242.7,660.8 256.96,643.9 271.22,647.4 285.48,650.9 299.74,654.4 314,657.9 328.26,667.9 356.78,657.9 371.04,650.9 399.56,647.4 413.82,654.4 428.08,643.9 442.34,647.4 456.6,650.9 485.12,650.9 499.38,646.8 513.64,643.9" fill="none" stroke="#5ea6bf" stroke-width="1" stroke-dasharray="3,2" stroke-linejoin="round"/>
<polyline points="242.7,601.8 256.96,593.9 271.22,606 285.48,586.7 299.74,587.3 314,590.8 328.26,592.5 356.78,600 371.04,597.2 399.56,596.9 413.82,583.8 428.08,589.9 442.34,592.5 456.6,594.8 485.12,590.8 499.38,592.9 513.64,598.3" fill="none" stroke="#5ea6bf" stroke-width="1.2" stroke-linejoin="round"/>
<polyline points="242.7,600.4 256.96,596 271.22,591.6 285.48,592.9 299.74,599 314,590.8 328.26,590.8 342.52,590.4 356.78,594.6 371.04,595.7 385.3,598.7 399.56,599 413.82,585.9 428.08,589.9 442.34,596.4 456.6,590.4 470.86,612.7 485.12,604.4 499.38,593 513.64,596 527.9,593 542.16,589.4 556.42,595.5 570.68,597.2 584.94,593.4 599.2,596 613.46,590.2 627.72,616.2 641.98,592.2" fill="none" stroke="#f4b2a7" stroke-width="1.1" stroke-linejoin="round"/>
<circle cx="242.7" cy="667.9" r="2.6" fill="#fff" stroke="#f4b2a7" stroke-width="0.8"/>
<circle cx="256.96" cy="643.9" r="2.6" fill="#fff" stroke="#f4b2a7" stroke-width="0.8"/>
<circle cx="271.22" cy="637.2" r="2.6" fill="#fff" stroke="#f4b2a7" stroke-width="0.8"/>
<circle cx="285.48" cy="641" r="2.6" fill="#fff" stroke="#f4b2a7" stroke-width="0.8"/>
<circle cx="299.74" cy="644.2" r="2.6" fill="#fff" stroke="#f4b2a7" stroke-width="0.8"/>
<circle cx="314" cy="653.8" r="2.6" fill="#fff" stroke="#f4b2a7" stroke-width="0.8"/>
<circle cx="328.26" cy="660.8" r="2.6" fill="#fff" stroke="#f4b2a7" stroke-width="0.8"/>
<circle cx="342.52" cy="643.9" r="2.6" fill="#fff" stroke="#f4b2a7" stroke-width="0.8"/>
<circle cx="356.78" cy="647.4" r="2.6" fill="#fff" stroke="#f4b2a7" stroke-width="0.8"/>
<circle cx="371.04" cy="657.9" r="2.6" fill="#fff" stroke="#f4b2a7" stroke-width="0.8"/>
<circle cx="385.3" cy="650.9" r="2.6" fill="#fff" stroke="#f4b2a7" stroke-width="0.8"/>
<circle cx="399.56" cy="657.9" r="2.6" fill="#fff" stroke="#f4b2a7" stroke-width="0.8"/>
<circle cx="413.82" cy="643.9" r="2.6" fill="#fff" stroke="#f4b2a7" stroke-width="0.8"/>
<circle cx="428.08" cy="643.9" r="2.6" fill="#fff" stroke="#f4b2a7" stroke-width="0.8"/>
<circle cx="442.34" cy="640.7" r="2.6" fill="#fff" stroke="#f4b2a7" stroke-width="0.8"/>
<circle cx="456.6" cy="640.7" r="2.6" fill="#fff" stroke="#f4b2a7" stroke-width="0.8"/>
<circle cx="470.86" cy="643.9" r="2.6" fill="#fff" stroke="#f4b2a7" stroke-width="0.8"/>
<circle cx="485.12" cy="640.7" r="2.6" fill="#fff" stroke="#f4b2a7" stroke-width="0.8"/>
<circle cx="499.38" cy="650.9" r="2.6" fill="#fff" stroke="#f4b2a7" stroke-width="0.8"/>
<circle cx="513.64" cy="643.9" r="2.6" fill="#fff" stroke="#f4b2a7" stroke-width="0.8"/>
<circle cx="527.9" cy="650.9" r="2.6" fill="#fff" stroke="#f4b2a7" stroke-width="0.8"/>
<circle cx="542.16" cy="650.9" r="2.6" fill="#fff" stroke="#f4b2a7" stroke-width="0.8"/>
<circle cx="556.42" cy="657.9" r="2.6" fill="#fff" stroke="#f4b2a7" stroke-width="0.8"/>
<circle cx="570.68" cy="654.4" r="2.6" fill="#fff" stroke="#f4b2a7" stroke-width="0.8"/>
<circle cx="584.94" cy="647.4" r="2.6" fill="#fff" stroke="#f4b2a7" stroke-width="0.8"/>
<circle cx="599.2" cy="640.7" r="2.6" fill="#fff" stroke="#f4b2a7" stroke-width="0.8"/>
<circle cx="613.46" cy="650.9" r="2.6" fill="#fff" stroke="#f4b2a7" stroke-width="0.8"/>
<circle cx="627.72" cy="647.4" r="2.6" fill="#fff" stroke="#f4b2a7" stroke-width="0.8"/>
<circle cx="641.98" cy="643.9" r="2.6" fill="#fff" stroke="#f4b2a7" stroke-width="0.8"/>
<rect x="240.3" y="658.4" width="4.8" height="4.8" fill="#fff" stroke="#5ea6bf" stroke-width="0.9"/>
<rect x="254.56" y="641.5" width="4.8" height="4.8" fill="#fff" stroke="#5ea6bf" stroke-width="0.9"/>
<rect x="268.82" y="645" width="4.8" height="4.8" fill="#fff" stroke="#5ea6bf" stroke-width="0.9"/>
<rect x="283.08" y="648.5" width="4.8" height="4.8" fill="#fff" stroke="#5ea6bf" stroke-width="0.9"/>
<rect x="297.34" y="652" width="4.8" height="4.8" fill="#fff" stroke="#5ea6bf" stroke-width="0.9"/>
<rect x="311.6" y="655.5" width="4.8" height="4.8" fill="#fff" stroke="#5ea6bf" stroke-width="0.9"/>
<rect x="325.86" y="665.5" width="4.8" height="4.8" fill="#fff" stroke="#5ea6bf" stroke-width="0.9"/>
<rect x="354.38" y="655.5" width="4.8" height="4.8" fill="#fff" stroke="#5ea6bf" stroke-width="0.9"/>
<rect x="368.64" y="648.5" width="4.8" height="4.8" fill="#fff" stroke="#5ea6bf" stroke-width="0.9"/>
<rect x="397.16" y="645" width="4.8" height="4.8" fill="#fff" stroke="#5ea6bf" stroke-width="0.9"/>
<rect x="411.42" y="652" width="4.8" height="4.8" fill="#fff" stroke="#5ea6bf" stroke-width="0.9"/>
<rect x="425.68" y="641.5" width="4.8" height="4.8" fill="#fff" stroke="#5ea6bf" stroke-width="0.9"/>
<rect x="439.94" y="645" width="4.8" height="4.8" fill="#fff" stroke="#5ea6bf" stroke-width="0.9"/>
<rect x="454.2" y="648.5" width="4.8" height="4.8" fill="#fff" stroke="#5ea6bf" stroke-width="0.9"/>
<rect x="482.72" y="648.5" width="4.8" height="4.8" fill="#fff" stroke="#5ea6bf" stroke-width="0.9"/>
<rect x="496.98" y="644.4" width="4.8" height="4.8" fill="#fff" stroke="#5ea6bf" stroke-width="0.9"/>
<rect x="511.24" y="641.5" width="4.8" height="4.8" fill="#fff" stroke="#5ea6bf" stroke-width="0.9"/>
<rect x="240.3" y="599.4" width="4.8" height="4.8" fill="#5ea6bf" stroke="none" stroke-width="1"/>
<rect x="254.56" y="591.5" width="4.8" height="4.8" fill="#5ea6bf" stroke="none" stroke-width="1"/>
<rect x="268.82" y="603.6" width="4.8" height="4.8" fill="#5ea6bf" stroke="none" stroke-width="1"/>
<rect x="283.08" y="584.3" width="4.8" height="4.8" fill="#5ea6bf" stroke="none" stroke-width="1"/>
<rect x="297.34" y="584.9" width="4.8" height="4.8" fill="#5ea6bf" stroke="none" stroke-width="1"/>
<rect x="311.6" y="588.4" width="4.8" height="4.8" fill="#5ea6bf" stroke="none" stroke-width="1"/>
<rect x="325.86" y="590.1" width="4.8" height="4.8" fill="#5ea6bf" stroke="none" stroke-width="1"/>
<rect x="354.38" y="597.6" width="4.8" height="4.8" fill="#5ea6bf" stroke="none" stroke-width="1"/>
<rect x="368.64" y="594.8" width="4.8" height="4.8" fill="#5ea6bf" stroke="none" stroke-width="1"/>
<rect x="397.16" y="594.5" width="4.8" height="4.8" fill="#5ea6bf" stroke="none" stroke-width="1"/>
<rect x="411.42" y="581.4" width="4.8" height="4.8" fill="#5ea6bf" stroke="none" stroke-width="1"/>
<rect x="425.68" y="587.5" width="4.8" height="4.8" fill="#5ea6bf" stroke="none" stroke-width="1"/>
<rect x="439.94" y="590.1" width="4.8" height="4.8" fill="#5ea6bf" stroke="none" stroke-width="1"/>
<rect x="454.2" y="592.4" width="4.8" height="4.8" fill="#5ea6bf" stroke="none" stroke-width="1"/>
<rect x="482.72" y="588.4" width="4.8" height="4.8" fill="#5ea6bf" stroke="none" stroke-width="1"/>
<rect x="496.98" y="590.5" width="4.8" height="4.8" fill="#5ea6bf" stroke="none" stroke-width="1"/>
<rect x="511.24" y="595.9" width="4.8" height="4.8" fill="#5ea6bf" stroke="none" stroke-width="1"/>
<circle cx="242.7" cy="600.4" r="2.6" fill="#f4b2a7" stroke="none" stroke-width="0.8"/>
<circle cx="256.96" cy="596" r="2.6" fill="#f4b2a7" stroke="none" stroke-width="0.8"/>
<circle cx="271.22" cy="591.6" r="2.6" fill="#f4b2a7" stroke="none" stroke-width="0.8"/>
<circle cx="285.48" cy="592.9" r="2.6" fill="#f4b2a7" stroke="none" stroke-width="0.8"/>
<circle cx="299.74" cy="599" r="2.6" fill="#f4b2a7" stroke="none" stroke-width="0.8"/>
<circle cx="314" cy="590.8" r="2.6" fill="#f4b2a7" stroke="none" stroke-width="0.8"/>
<circle cx="328.26" cy="590.8" r="2.6" fill="#f4b2a7" stroke="none" stroke-width="0.8"/>
<circle cx="342.52" cy="590.4" r="2.6" fill="#f4b2a7" stroke="none" stroke-width="0.8"/>
<circle cx="356.78" cy="594.6" r="2.6" fill="#f4b2a7" stroke="none" stroke-width="0.8"/>
<circle cx="371.04" cy="595.7" r="2.6" fill="#f4b2a7" stroke="none" stroke-width="0.8"/>
<circle cx="385.3" cy="598.7" r="2.6" fill="#f4b2a7" stroke="none" stroke-width="0.8"/>
<circle cx="399.56" cy="599" r="2.6" fill="#f4b2a7" stroke="none" stroke-width="0.8"/>
<circle cx="413.82" cy="585.9" r="2.6" fill="#f4b2a7" stroke="none" stroke-width="0.8"/>
<circle cx="428.08" cy="589.9" r="2.6" fill="#f4b2a7" stroke="none" stroke-width="0.8"/>
<circle cx="442.34" cy="596.4" r="2.6" fill="#f4b2a7" stroke="none" stroke-width="0.8"/>
<circle cx="456.6" cy="590.4" r="2.6" fill="#f4b2a7" stroke="none" stroke-width="0.8"/>
<circle cx="470.86" cy="612.7" r="2.6" fill="#f4b2a7" stroke="none" stroke-width="0.8"/>
<circle cx="485.12" cy="604.4" r="2.6" fill="#f4b2a7" stroke="none" stroke-width="0.8"/>
<circle cx="499.38" cy="593" r="2.6" fill="#f4b2a7" stroke="none" stroke-width="0.8"/>
<circle cx="513.64" cy="596" r="2.6" fill="#f4b2a7" stroke="none" stroke-width="0.8"/>
<circle cx="527.9" cy="593" r="2.6" fill="#f4b2a7" stroke="none" stroke-width="0.8"/>
<circle cx="542.16" cy="589.4" r="2.6" fill="#f4b2a7" stroke="none" stroke-width="0.8"/>
<circle cx="556.42" cy="595.5" r="2.6" fill="#f4b2a7" stroke="none" stroke-width="0.8"/>
<circle cx="570.68" cy="597.2" r="2.6" fill="#f4b2a7" stroke="none" stroke-width="0.8"/>
<circle cx="584.94" cy="593.4" r="2.6" fill="#f4b2a7" stroke="none" stroke-width="0.8"/>
<circle cx="599.2" cy="596" r="2.6" fill="#f4b2a7" stroke="none" stroke-width="0.8"/>
<circle cx="613.46" cy="590.2" r="2.6" fill="#f4b2a7" stroke="none" stroke-width="0.8"/>
<circle cx="627.72" cy="616.2" r="2.6" fill="#f4b2a7" stroke="none" stroke-width="0.8"/>
<circle cx="641.98" cy="592.2" r="2.6" fill="#f4b2a7" stroke="none" stroke-width="0.8"/>
<line x1="236" y1="582.2" x2="649.8" y2="582.2" stroke="#333" stroke-width="1.2"/>
<line x1="236" y1="581.6" x2="236" y2="685.6" stroke="#1e1e1e" stroke-width="1.3"/>
<line x1="649.8" y1="581.6" x2="649.8" y2="685.6" stroke="#1e1e1e" stroke-width="1.3"/>
<line x1="236" y1="685" x2="649.8" y2="685" stroke="#1e1e1e" stroke-width="1.3"/>
<line x1="229" y1="685" x2="236" y2="685" stroke="#1e1e1e" stroke-width="1.1"/>
<text x="226.5" y="687.9" text-anchor="end">0</text>
<line x1="229" y1="650.7" x2="236" y2="650.7" stroke="#1e1e1e" stroke-width="1.1"/>
<text x="226.5" y="653.6" text-anchor="end">5000</text>
<line x1="229" y1="616.4" x2="236" y2="616.4" stroke="#1e1e1e" stroke-width="1.1"/>
<text x="226.5" y="619.3" text-anchor="end">10000</text>
<line x1="229" y1="582.2" x2="236" y2="582.2" stroke="#1e1e1e" stroke-width="1.1"/>
<text x="226.5" y="585.1" text-anchor="end">15000</text>
<line x1="649.8" y1="582.2" x2="655.8" y2="582.2" stroke="#1e1e1e" stroke-width="1.1"/>
<text x="658.8" y="585.1">0</text>
<line x1="649.8" y1="616.4" x2="655.8" y2="616.4" stroke="#1e1e1e" stroke-width="1.1"/>
<text x="658.8" y="619.3">10</text>
<line x1="649.8" y1="650.6" x2="655.8" y2="650.6" stroke="#1e1e1e" stroke-width="1.1"/>
<text x="658.8" y="653.5">20</text>
<line x1="649.8" y1="684.8" x2="655.8" y2="684.8" stroke="#1e1e1e" stroke-width="1.1"/>
<text x="658.8" y="687.7">30</text>
<line x1="242.7" y1="685" x2="242.7" y2="691.9" stroke="#1e1e1e" stroke-width="1.1"/>
<text x="245.6" y="694.8" text-anchor="end" transform="rotate(-90 245.6 694.8)">42</text>
<line x1="256.96" y1="685" x2="256.96" y2="691.9" stroke="#1e1e1e" stroke-width="1.1"/>
<text x="259.86" y="694.8" text-anchor="end" transform="rotate(-90 259.86 694.8)">48</text>
<line x1="271.22" y1="685" x2="271.22" y2="691.9" stroke="#1e1e1e" stroke-width="1.1"/>
<text x="274.12" y="694.8" text-anchor="end" transform="rotate(-90 274.12 694.8)">51</text>
<line x1="285.48" y1="685" x2="285.48" y2="691.9" stroke="#1e1e1e" stroke-width="1.1"/>
<text x="288.38" y="694.8" text-anchor="end" transform="rotate(-90 288.38 694.8)">57</text>
<line x1="299.74" y1="685" x2="299.74" y2="691.9" stroke="#1e1e1e" stroke-width="1.1"/>
<text x="302.64" y="694.8" text-anchor="end" transform="rotate(-90 302.64 694.8)">61</text>
<line x1="314" y1="685" x2="314" y2="691.9" stroke="#1e1e1e" stroke-width="1.1"/>
<text x="316.9" y="694.8" text-anchor="end" transform="rotate(-90 316.9 694.8)">65</text>
<line x1="328.26" y1="685" x2="328.26" y2="691.9" stroke="#1e1e1e" stroke-width="1.1"/>
<text x="331.16" y="694.8" text-anchor="end" transform="rotate(-90 331.16 694.8)">68</text>
<line x1="342.52" y1="685" x2="342.52" y2="691.9" stroke="#1e1e1e" stroke-width="1.1"/>
<text x="345.42" y="694.8" text-anchor="end" transform="rotate(-90 345.42 694.8)">74</text>
<line x1="356.78" y1="685" x2="356.78" y2="691.9" stroke="#1e1e1e" stroke-width="1.1"/>
<text x="359.68" y="694.8" text-anchor="end" transform="rotate(-90 359.68 694.8)">80</text>
<line x1="371.04" y1="685" x2="371.04" y2="691.9" stroke="#1e1e1e" stroke-width="1.1"/>
<text x="373.94" y="694.8" text-anchor="end" transform="rotate(-90 373.94 694.8)">83</text>
<line x1="385.3" y1="685" x2="385.3" y2="691.9" stroke="#1e1e1e" stroke-width="1.1"/>
<text x="388.2" y="694.8" text-anchor="end" transform="rotate(-90 388.2 694.8)">86</text>
<line x1="399.56" y1="685" x2="399.56" y2="691.9" stroke="#1e1e1e" stroke-width="1.1"/>
<text x="402.46" y="694.8" text-anchor="end" transform="rotate(-90 402.46 694.8)">89</text>
<line x1="413.82" y1="685" x2="413.82" y2="691.9" stroke="#1e1e1e" stroke-width="1.1"/>
<text x="416.72" y="694.8" text-anchor="end" transform="rotate(-90 416.72 694.8)">92</text>
<line x1="428.08" y1="685" x2="428.08" y2="691.9" stroke="#1e1e1e" stroke-width="1.1"/>
<text x="430.98" y="694.8" text-anchor="end" transform="rotate(-90 430.98 694.8)">95</text>
<line x1="442.34" y1="685" x2="442.34" y2="691.9" stroke="#1e1e1e" stroke-width="1.1"/>
<text x="445.24" y="694.8" text-anchor="end" transform="rotate(-90 445.24 694.8)">102</text>
<line x1="456.6" y1="685" x2="456.6" y2="691.9" stroke="#1e1e1e" stroke-width="1.1"/>
<text x="459.5" y="694.8" text-anchor="end" transform="rotate(-90 459.5 694.8)">115</text>
<line x1="470.86" y1="685" x2="470.86" y2="691.9" stroke="#1e1e1e" stroke-width="1.1"/>
<text x="473.76" y="694.8" text-anchor="end" transform="rotate(-90 473.76 694.8)">120</text>
<line x1="485.12" y1="685" x2="485.12" y2="691.9" stroke="#1e1e1e" stroke-width="1.1"/>
<text x="488.02" y="694.8" text-anchor="end" transform="rotate(-90 488.02 694.8)">133</text>
<line x1="499.38" y1="685" x2="499.38" y2="691.9" stroke="#1e1e1e" stroke-width="1.1"/>
<text x="502.28" y="694.8" text-anchor="end" transform="rotate(-90 502.28 694.8)">136</text>
<line x1="513.64" y1="685" x2="513.64" y2="691.9" stroke="#1e1e1e" stroke-width="1.1"/>
<text x="516.54" y="694.8" text-anchor="end" transform="rotate(-90 516.54 694.8)">139</text>
<line x1="527.9" y1="685" x2="527.9" y2="691.9" stroke="#1e1e1e" stroke-width="1.1"/>
<text x="530.8" y="694.8" text-anchor="end" transform="rotate(-90 530.8 694.8)">143</text>
<line x1="542.16" y1="685" x2="542.16" y2="691.9" stroke="#1e1e1e" stroke-width="1.1"/>
<text x="545.06" y="694.8" text-anchor="end" transform="rotate(-90 545.06 694.8)">146</text>
<line x1="556.42" y1="685" x2="556.42" y2="691.9" stroke="#1e1e1e" stroke-width="1.1"/>
<text x="559.32" y="694.8" text-anchor="end" transform="rotate(-90 559.32 694.8)">150</text>
<line x1="570.68" y1="685" x2="570.68" y2="691.9" stroke="#1e1e1e" stroke-width="1.1"/>
<text x="573.58" y="694.8" text-anchor="end" transform="rotate(-90 573.58 694.8)">153</text>
<line x1="584.94" y1="685" x2="584.94" y2="691.9" stroke="#1e1e1e" stroke-width="1.1"/>
<text x="587.84" y="694.8" text-anchor="end" transform="rotate(-90 587.84 694.8)">155</text>
<line x1="599.2" y1="685" x2="599.2" y2="691.9" stroke="#1e1e1e" stroke-width="1.1"/>
<text x="602.1" y="694.8" text-anchor="end" transform="rotate(-90 602.1 694.8)">157</text>
<line x1="613.46" y1="685" x2="613.46" y2="691.9" stroke="#1e1e1e" stroke-width="1.1"/>
<text x="616.36" y="694.8" text-anchor="end" transform="rotate(-90 616.36 694.8)">159</text>
<line x1="627.72" y1="685" x2="627.72" y2="691.9" stroke="#1e1e1e" stroke-width="1.1"/>
<text x="630.62" y="694.8" text-anchor="end" transform="rotate(-90 630.62 694.8)">161</text>
<line x1="641.98" y1="685" x2="641.98" y2="691.9" stroke="#1e1e1e" stroke-width="1.1"/>
<text x="644.88" y="694.8" text-anchor="end" transform="rotate(-90 644.88 694.8)">182</text>
<text x="434.5" y="721.8" text-anchor="middle">Days post symptoms onset</text>
<text x="197.8" y="636" text-anchor="middle" transform="rotate(-90 197.8 636)">Fluorescence (a.u.)</text>
<text x="677.5" y="635" text-anchor="middle" transform="rotate(90 677.5 635)">qPCR Ct value</text>
<line x1="204.6" y1="564.8" x2="224.7" y2="564.8" stroke="#f4b2a7" stroke-width="1" stroke-dasharray="3,2"/>
<circle cx="214.6" cy="564.8" r="2.6" fill="#fff" stroke="#f4b2a7" stroke-width="0.8"/>
<text x="234.5" y="567.7">qPCR-Rash swab</text>
<line x1="326.9" y1="564.8" x2="347" y2="564.8" stroke="#f4b2a7" stroke-width="1.1"/>
<circle cx="337" cy="564.8" r="2.6" fill="#f4b2a7" stroke="none" stroke-width="0.8"/>
<text x="356" y="567.7">TRACE-Rash swab</text>
<line x1="457.9" y1="564.8" x2="476.5" y2="564.8" stroke="#5ea6bf" stroke-width="1" stroke-dasharray="3,2"/>
<rect x="464.2" y="562.4" width="4.8" height="4.8" fill="#fff" stroke="#5ea6bf" stroke-width="0.9"/>
<text x="486.6" y="567.7">qPCR-Saliva</text>
<line x1="560.3" y1="564.8" x2="580.8" y2="564.8" stroke="#5ea6bf" stroke-width="1.2"/>
<rect x="568.1" y="562.4" width="4.8" height="4.8" fill="#5ea6bf" stroke="none" stroke-width="1"/>
<text x="590.1" y="567.7">TRACE-Saliva</text>
</svg>
</body></html>
